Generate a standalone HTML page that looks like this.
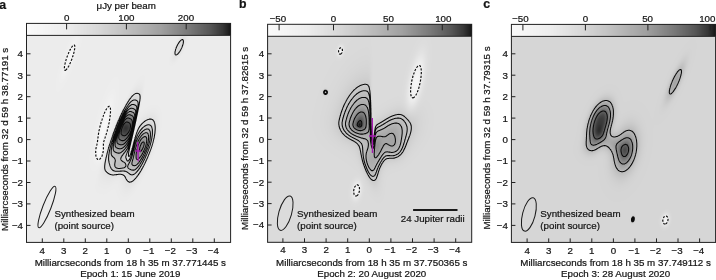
<!DOCTYPE html>
<html><head><meta charset="utf-8"><style>
html,body{margin:0;padding:0;background:#fff;}
#root{position:relative;width:716px;height:280px;overflow:hidden;background:#fff;font-family:"Liberation Sans", sans-serif;}
canvas,svg{position:absolute;left:0;top:0;}
svg text{font-family:"Liberation Sans", sans-serif;font-size:9.75px;fill:#141414;stroke:#141414;stroke-width:0.22px;}
</style></head><body><div id="root">
<canvas id="cv" width="716" height="280"></canvas>
<svg width="716" height="280" viewBox="0 0 716 280">
<path d="M176.2,54.9 175.8,54.9 175.5,54.8 175.2,54.5 175.1,54.1 175.0,53.6 175.0,53.4 175.0,52.9 175.0,52.5 175.0,52.1 175.1,51.6 175.2,51.1 175.3,50.9 175.4,50.4 175.5,49.9 175.6,49.6 175.7,49.1 175.8,48.9 176.0,48.4 176.1,48.1 176.2,47.7 176.4,47.4 176.5,47.1 176.7,46.6 176.8,46.4 177.0,46.0 177.2,45.6 177.3,45.4 177.5,45.0 177.7,44.6 177.8,44.4 178.0,44.1 178.2,43.7 178.4,43.4 178.6,43.1 178.8,42.9 179.0,42.5 179.2,42.2 179.4,41.9 179.6,41.6 179.8,41.4 180.1,41.1 180.3,40.9 180.5,40.6 180.8,40.4 181.1,40.1 181.5,39.9 181.8,39.7 182.0,39.6 182.5,39.6 182.8,39.6 183.0,39.9 183.2,40.3 183.4,40.6 183.4,41.1 183.4,41.6 183.4,42.1 183.3,42.6 183.2,43.1 183.2,43.4 183.1,43.9 183.0,44.2 182.9,44.6 182.8,45.1 182.6,45.4 182.5,45.8 182.4,46.1 182.2,46.5 182.1,46.9 182.0,47.2 181.8,47.6 181.7,47.9 181.5,48.3 181.3,48.6 181.2,48.9 181.0,49.3 180.8,49.6 180.7,49.9 180.5,50.2 180.3,50.6 180.1,50.9 180.0,51.1 179.8,51.5 179.5,51.8 179.3,52.1 179.1,52.4 178.9,52.6 178.7,52.9 178.5,53.2 178.2,53.5 178.0,53.7 177.8,54.0 177.5,54.2 177.2,54.4 176.8,54.6 176.5,54.8 176.2,54.9Z M130.0,182.2 129.8,182.1 129.2,182.1 128.8,181.9 128.5,181.7 128.2,181.6 128.0,181.4 127.7,181.2 127.5,180.9 127.2,180.7 127.0,180.3 126.8,180.0 126.6,179.7 126.4,179.4 126.2,179.1 126.0,178.7 125.9,178.4 125.8,178.1 125.5,177.7 125.4,177.4 125.2,177.2 125.0,176.8 124.8,176.4 124.6,176.2 124.4,175.9 124.1,175.7 123.9,175.4 123.5,175.2 123.2,175.0 123.0,174.8 122.5,174.7 122.2,174.6 121.8,174.4 121.5,174.4 121.0,174.3 120.5,174.3 120.0,174.3 119.5,174.3 119.0,174.3 118.5,174.3 118.0,174.4 117.8,174.4 117.2,174.5 116.8,174.6 116.2,174.6 116.0,174.7 115.5,174.7 115.0,174.8 114.5,174.8 114.0,174.9 113.5,174.9 113.0,174.9 112.5,174.9 112.0,174.8 111.5,174.7 111.1,174.7 110.8,174.6 110.3,174.4 110.0,174.3 109.7,174.2 109.2,173.9 109.0,173.8 108.7,173.7 108.4,173.4 108.0,173.2 107.8,173.0 107.5,172.8 107.2,172.6 107.0,172.4 106.7,172.2 106.4,171.9 106.2,171.7 106.0,171.4 105.8,171.1 105.5,170.7 105.3,170.4 105.2,170.2 105.0,169.7 105.0,169.4 104.8,168.9 104.8,168.4 104.7,168.2 104.7,167.7 104.7,167.2 104.7,166.7 104.7,166.2 104.7,165.7 104.8,165.4 104.8,164.9 104.9,164.4 104.9,163.9 105.0,163.4 105.0,163.2 105.1,162.7 105.2,162.2 105.3,161.9 105.3,161.4 105.4,160.9 105.5,160.6 105.6,160.2 105.7,159.7 105.8,159.3 105.8,158.9 105.9,158.4 106.0,158.2 106.1,157.7 106.2,157.2 106.3,156.9 106.4,156.4 106.5,155.9 106.6,155.7 106.7,155.2 106.8,154.9 106.9,154.4 107.0,153.9 107.0,153.7 107.2,153.2 107.2,152.8 107.4,152.4 107.5,151.9 107.5,151.7 107.7,151.2 107.8,150.9 107.9,150.4 108.0,149.9 108.1,149.7 108.2,149.2 108.3,148.9 108.4,148.4 108.5,148.2 108.6,147.7 108.8,147.3 108.9,146.9 109.0,146.5 109.1,146.2 109.2,145.7 109.3,145.4 109.5,144.9 109.5,144.7 109.7,144.2 109.8,143.9 109.9,143.4 110.0,143.2 110.2,142.7 110.3,142.4 110.4,141.9 110.5,141.7 110.7,141.2 110.8,140.9 110.9,140.4 111.0,140.1 111.2,139.7 111.3,139.4 111.4,138.9 111.5,138.7 111.7,138.2 111.8,137.9 111.9,137.4 112.0,137.2 112.2,136.7 112.3,136.4 112.4,135.9 112.5,135.7 112.7,135.2 112.8,134.9 113.0,134.4 113.1,134.2 113.2,133.7 113.3,133.4 113.5,133.0 113.6,132.7 113.8,132.3 113.9,131.9 114.0,131.6 114.2,131.2 114.3,130.9 114.4,130.4 114.5,130.2 114.7,129.7 114.8,129.4 115.0,128.9 115.1,128.7 115.2,128.3 115.4,127.9 115.5,127.6 115.7,127.2 115.8,126.9 116.0,126.4 116.1,126.2 116.2,125.7 116.4,125.4 116.5,125.0 116.7,124.7 116.8,124.4 117.0,123.9 117.1,123.7 117.2,123.2 117.4,122.9 117.5,122.6 117.7,122.2 117.8,121.9 118.0,121.4 118.1,121.2 118.2,120.9 118.4,120.4 118.6,120.2 118.8,119.7 118.9,119.4 119.0,119.2 119.2,118.7 119.3,118.4 119.5,118.0 119.7,117.7 119.8,117.4 120.0,116.9 120.1,116.7 120.3,116.4 120.5,115.9 120.6,115.7 120.8,115.3 121.0,114.9 121.1,114.7 121.2,114.3 121.4,113.9 121.6,113.7 121.8,113.3 121.9,112.9 122.0,112.7 122.2,112.2 122.4,111.9 122.5,111.7 122.8,111.2 122.9,110.9 123.1,110.7 123.2,110.3 123.4,109.9 123.6,109.7 123.8,109.3 124.0,108.9 124.1,108.7 124.2,108.4 124.5,107.9 124.6,107.7 124.8,107.4 125.0,107.0 125.2,106.7 125.3,106.4 125.5,106.1 125.7,105.7 125.9,105.4 126.0,105.2 126.2,104.7 126.4,104.4 126.6,104.2 126.8,103.9 127.0,103.5 127.2,103.2 127.3,102.9 127.5,102.6 127.8,102.2 128.0,101.9 128.1,101.7 128.3,101.4 128.5,101.1 128.8,100.7 128.9,100.4 129.1,100.2 129.3,99.9 129.5,99.6 129.8,99.2 130.0,98.9 130.2,98.7 130.4,98.4 130.5,98.2 130.8,97.9 131.0,97.6 131.2,97.2 131.5,96.9 131.8,96.7 132.0,96.4 132.2,96.2 132.4,95.9 132.7,95.7 132.9,95.4 133.2,95.2 133.5,94.9 133.8,94.7 134.0,94.5 134.2,94.3 134.5,94.1 134.9,93.9 135.2,93.7 135.5,93.6 136.0,93.4 136.2,93.4 136.8,93.3 137.2,93.3 137.8,93.4 138.0,93.4 138.5,93.6 138.8,93.8 139.0,93.9 139.3,94.2 139.5,94.4 139.8,94.8 139.9,95.2 140.0,95.6 140.0,95.9 140.1,96.4 140.1,96.9 140.1,97.4 140.1,97.9 140.1,98.4 140.0,98.9 140.0,99.2 139.9,99.7 139.9,100.2 139.8,100.7 139.8,101.0 139.7,101.4 139.6,101.9 139.5,102.4 139.5,102.7 139.4,103.2 139.3,103.7 139.2,104.0 139.2,104.4 139.1,104.9 139.0,105.3 138.9,105.7 138.8,106.2 138.8,106.6 138.7,106.9 138.6,107.4 138.5,107.9 138.4,108.2 138.4,108.7 138.2,109.1 138.2,109.4 138.1,109.9 138.0,110.4 137.9,110.7 137.8,111.2 137.8,111.6 137.7,111.9 137.6,112.4 137.5,112.8 137.4,113.2 137.3,113.7 137.2,114.0 137.2,114.4 137.1,114.9 137.0,115.2 136.9,115.7 136.8,116.2 136.7,116.4 136.7,116.9 136.5,117.4 136.5,117.7 136.4,118.2 136.3,118.7 136.2,118.9 136.1,119.4 136.0,119.9 136.0,120.2 135.9,120.7 135.8,121.1 135.7,121.4 135.6,121.9 135.5,122.3 135.4,122.7 135.3,123.2 135.2,123.5 135.2,123.9 135.0,124.4 135.0,124.7 134.9,125.2 134.8,125.7 134.7,125.9 134.6,126.4 134.5,126.9 134.4,127.2 134.3,127.7 134.2,128.0 134.2,128.4 134.0,128.9 134.0,129.2 133.9,129.7 133.8,130.2 133.7,130.4 133.6,130.9 133.5,131.3 133.4,131.7 133.3,132.2 133.2,132.4 133.1,132.9 133.0,133.4 133.0,133.7 132.8,134.2 132.8,134.5 132.7,134.9 132.5,135.4 132.5,135.7 132.4,136.2 132.2,136.6 132.2,136.9 132.1,137.4 132.0,137.7 131.9,138.2 131.8,138.7 131.7,138.9 131.6,139.4 131.5,139.8 131.4,140.2 131.3,140.7 131.2,140.9 131.1,141.4 131.0,141.9 130.9,142.2 130.8,142.7 130.8,143.0 130.7,143.4 130.5,143.9 130.5,144.2 130.4,144.7 130.2,145.1 130.2,145.4 130.1,145.9 130.0,146.2 129.9,146.7 129.8,147.2 129.7,147.4 129.6,147.9 129.5,148.4 129.5,148.7 129.4,149.2 129.2,149.6 129.2,149.9 129.1,150.4 129.0,150.8 128.9,151.2 128.8,151.7 128.8,152.2 128.7,152.4 128.6,152.9 128.6,153.4 128.5,153.9 128.5,154.2 128.5,154.7 128.4,155.2 128.5,155.7 128.5,155.9 128.8,156.4 129.0,156.4 129.2,156.3 129.5,156.0 129.7,155.7 129.8,155.4 130.0,155.1 130.2,154.7 130.3,154.4 130.5,153.9 130.6,153.7 130.8,153.2 130.8,152.9 131.0,152.5 131.1,152.2 131.2,151.7 131.3,151.4 131.5,150.9 131.6,150.7 131.7,150.2 131.8,149.9 131.9,149.4 132.0,149.2 132.1,148.7 132.2,148.3 132.4,147.9 132.5,147.4 132.6,147.2 132.7,146.7 132.8,146.4 132.9,145.9 133.0,145.5 133.1,145.2 133.2,144.7 133.3,144.4 133.4,143.9 133.5,143.7 133.6,143.2 133.8,142.7 133.8,142.4 134.0,141.9 134.0,141.7 134.2,141.2 134.2,140.9 134.4,140.4 134.5,139.9 134.6,139.7 134.7,139.2 134.8,138.9 134.9,138.4 135.0,138.2 135.1,137.7 135.2,137.3 135.4,136.9 135.5,136.5 135.6,136.2 135.8,135.7 135.8,135.4 136.0,134.9 136.1,134.7 136.2,134.2 136.3,133.9 136.5,133.4 136.6,133.2 136.8,132.7 136.8,132.4 137.0,132.0 137.1,131.7 137.2,131.3 137.4,130.9 137.5,130.7 137.7,130.2 137.9,129.9 138.0,129.6 138.2,129.2 138.3,128.9 138.5,128.6 138.7,128.2 138.9,127.9 139.0,127.7 139.2,127.3 139.5,126.9 139.6,126.7 139.8,126.4 140.0,126.1 140.2,125.8 140.5,125.5 140.8,125.2 141.0,124.9 141.2,124.7 141.4,124.4 141.6,124.2 141.9,123.9 142.1,123.7 142.3,123.4 142.6,123.2 142.9,122.9 143.1,122.7 143.4,122.4 143.7,122.2 144.0,121.9 144.2,121.7 144.5,121.5 144.8,121.3 145.0,121.1 145.3,120.9 145.7,120.7 146.0,120.4 146.2,120.3 146.5,120.1 147.0,119.9 147.2,119.8 147.5,119.7 148.0,119.5 148.2,119.4 148.8,119.3 149.2,119.2 149.5,119.1 150.0,119.1 150.5,119.1 151.0,119.1 151.2,119.2 151.8,119.3 152.0,119.4 152.5,119.7 152.8,119.8 153.0,120.0 153.2,120.3 153.5,120.6 153.7,120.9 153.8,121.2 154.0,121.4 154.2,121.9 154.3,122.2 154.5,122.7 154.6,122.9 154.7,123.4 154.8,123.7 154.9,124.2 154.9,124.7 155.0,125.0 155.0,125.4 155.1,125.9 155.1,126.4 155.2,126.9 155.2,127.4 155.2,127.9 155.2,128.4 155.2,128.9 155.2,129.4 155.1,129.9 155.1,130.4 155.1,130.9 155.0,131.4 155.0,131.9 155.0,132.2 154.9,132.7 154.9,133.2 154.8,133.7 154.8,134.0 154.7,134.4 154.6,134.9 154.5,135.4 154.5,135.7 154.4,136.2 154.3,136.7 154.2,137.0 154.2,137.4 154.1,137.9 154.0,138.2 153.9,138.7 153.8,139.2 153.7,139.4 153.6,139.9 153.5,140.4 153.4,140.7 153.3,141.2 153.2,141.4 153.1,141.9 153.0,142.4 152.9,142.7 152.8,143.2 152.7,143.4 152.6,143.9 152.5,144.2 152.3,144.7 152.2,144.9 152.1,145.4 152.0,145.7 151.9,146.2 151.8,146.5 151.6,146.9 151.5,147.3 151.4,147.7 151.2,148.0 151.1,148.4 151.0,148.7 150.8,149.2 150.7,149.4 150.6,149.9 150.5,150.2 150.3,150.7 150.2,150.9 150.0,151.4 149.9,151.7 149.8,152.1 149.6,152.4 149.5,152.7 149.3,153.2 149.2,153.4 149.0,153.9 148.9,154.2 148.8,154.6 148.6,154.9 148.5,155.2 148.3,155.7 148.2,155.9 148.0,156.4 147.9,156.7 147.8,157.0 147.6,157.4 147.5,157.7 147.3,158.2 147.1,158.4 147.0,158.7 146.8,159.2 146.7,159.4 146.5,159.9 146.4,160.2 146.2,160.4 146.0,160.9 145.9,161.2 145.8,161.5 145.6,161.9 145.4,162.2 145.2,162.6 145.1,162.9 145.0,163.2 144.8,163.6 144.6,163.9 144.5,164.2 144.2,164.6 144.1,164.9 144.0,165.2 143.8,165.6 143.6,165.9 143.5,166.2 143.2,166.6 143.1,166.9 142.9,167.2 142.8,167.5 142.5,167.9 142.4,168.2 142.2,168.4 142.0,168.9 141.8,169.2 141.7,169.4 141.5,169.8 141.3,170.2 141.1,170.4 141.0,170.7 140.8,171.0 140.5,171.4 140.4,171.7 140.2,171.9 140.0,172.3 139.8,172.6 139.6,172.9 139.4,173.2 139.2,173.4 139.0,173.8 138.8,174.2 138.6,174.4 138.4,174.7 138.2,174.9 138.0,175.2 137.8,175.6 137.5,175.9 137.3,176.2 137.1,176.4 137.0,176.7 136.8,176.9 136.5,177.2 136.2,177.5 136.0,177.8 135.8,178.1 135.5,178.4 135.3,178.7 135.0,178.9 134.8,179.2 134.6,179.4 134.3,179.7 134.1,179.9 133.8,180.2 133.5,180.4 133.2,180.6 133.0,180.8 132.8,181.0 132.5,181.2 132.1,181.4 131.8,181.6 131.5,181.7 131.1,181.9 130.8,182.0 130.2,182.1 130.0,182.2Z M133.0,174.7 132.5,174.8 132.0,174.9 131.5,174.8 131.1,174.7 130.8,174.5 130.5,174.4 130.0,174.2 129.8,174.0 129.5,173.8 129.2,173.6 128.9,173.4 128.6,173.2 128.3,172.9 128.0,172.7 127.8,172.5 127.5,172.3 127.2,172.1 126.9,171.9 126.5,171.7 126.2,171.5 126.0,171.4 125.5,171.2 125.1,171.2 124.8,171.1 124.2,171.1 123.8,171.0 123.2,171.0 122.8,171.0 122.2,171.0 121.8,171.0 121.2,171.1 120.8,171.1 120.2,171.1 120.0,171.2 119.5,171.2 119.0,171.2 118.5,171.3 118.0,171.3 117.5,171.3 117.0,171.3 116.5,171.3 116.0,171.3 115.5,171.2 115.2,171.2 114.8,171.1 114.2,170.9 114.0,170.8 113.6,170.7 113.2,170.5 113.0,170.3 112.7,170.2 112.4,169.9 112.1,169.7 111.9,169.4 111.7,169.2 111.5,168.9 111.2,168.5 111.0,168.2 110.9,167.9 110.8,167.6 110.5,167.2 110.4,166.9 110.3,166.4 110.2,166.2 110.0,165.7 109.9,165.4 109.8,164.9 109.7,164.7 109.6,164.2 109.5,163.9 109.3,163.4 109.2,163.1 109.1,162.7 109.0,162.2 109.0,161.9 108.9,161.4 108.8,160.9 108.7,160.7 108.7,160.2 108.6,159.7 108.6,159.2 108.6,158.7 108.6,158.2 108.6,157.7 108.6,157.2 108.7,156.7 108.7,156.2 108.7,155.7 108.8,155.4 108.8,154.9 108.9,154.4 109.0,153.9 109.0,153.6 109.1,153.2 109.2,152.7 109.2,152.2 109.3,151.9 109.4,151.4 109.5,150.9 109.5,150.7 109.6,150.2 109.8,149.7 109.8,149.4 109.9,148.9 110.0,148.6 110.1,148.2 110.2,147.7 110.3,147.4 110.4,146.9 110.5,146.6 110.6,146.2 110.7,145.7 110.8,145.4 111.0,144.9 111.0,144.7 111.2,144.2 111.2,143.8 111.4,143.4 111.5,143.0 111.6,142.7 111.7,142.2 111.8,141.9 112.0,141.4 112.0,141.2 112.2,140.7 112.3,140.4 112.4,139.9 112.5,139.7 112.7,139.2 112.8,138.9 112.9,138.4 113.0,138.1 113.2,137.7 113.2,137.4 113.4,136.9 113.5,136.6 113.6,136.2 113.8,135.9 113.9,135.4 114.0,135.1 114.2,134.7 114.2,134.4 114.4,133.9 114.5,133.7 114.7,133.2 114.8,132.9 114.9,132.4 115.0,132.2 115.2,131.7 115.3,131.4 115.5,130.9 115.6,130.7 115.8,130.2 115.9,129.9 116.0,129.5 116.1,129.2 116.2,128.8 116.4,128.4 116.5,128.2 116.7,127.7 116.8,127.4 117.0,126.9 117.1,126.7 117.2,126.2 117.4,125.9 117.5,125.6 117.7,125.2 117.8,124.9 118.0,124.4 118.1,124.2 118.2,123.8 118.4,123.4 118.5,123.2 118.7,122.7 118.8,122.4 119.0,122.0 119.2,121.7 119.3,121.4 119.5,120.9 119.6,120.7 119.8,120.3 119.9,119.9 120.1,119.7 120.2,119.2 120.4,118.9 120.5,118.7 120.8,118.2 120.9,117.9 121.0,117.6 121.2,117.2 121.4,116.9 121.5,116.6 121.7,116.2 121.8,115.9 122.0,115.6 122.2,115.2 122.3,114.9 122.5,114.6 122.7,114.2 122.9,113.9 123.0,113.6 123.2,113.2 123.4,112.9 123.5,112.7 123.8,112.2 123.9,111.9 124.1,111.7 124.2,111.3 124.5,110.9 124.6,110.7 124.8,110.4 125.0,110.0 125.2,109.7 125.3,109.4 125.5,109.1 125.8,108.7 125.9,108.4 126.1,108.2 126.2,107.9 126.5,107.5 126.7,107.2 126.9,106.9 127.0,106.7 127.2,106.3 127.5,106.0 127.7,105.7 127.9,105.4 128.1,105.2 128.2,104.9 128.5,104.5 128.8,104.2 129.0,103.9 129.2,103.7 129.4,103.4 129.6,103.2 129.8,102.9 130.0,102.7 130.3,102.4 130.5,102.2 130.8,101.9 131.0,101.7 131.3,101.4 131.6,101.2 131.9,100.9 132.2,100.7 132.5,100.5 132.8,100.4 133.2,100.2 133.5,100.1 134.0,99.9 134.5,99.9 135.0,99.9 135.5,100.0 135.8,100.2 136.2,100.3 136.5,100.4 136.9,100.7 137.2,100.9 137.5,101.2 137.7,101.4 137.8,101.7 138.0,102.2 138.0,102.4 138.1,102.9 138.1,103.4 138.1,103.9 138.1,104.4 138.1,104.9 138.0,105.4 138.0,105.9 138.0,106.2 137.9,106.7 137.9,107.2 137.8,107.7 137.8,107.9 137.7,108.4 137.6,108.9 137.5,109.4 137.5,109.7 137.4,110.2 137.3,110.7 137.2,111.1 137.2,111.4 137.1,111.9 137.0,112.4 137.0,112.7 136.9,113.2 136.8,113.7 136.8,113.9 136.7,114.4 136.6,114.9 136.5,115.2 136.4,115.7 136.3,116.2 136.2,116.5 136.2,116.9 136.1,117.4 136.0,117.8 135.9,118.2 135.8,118.7 135.8,119.1 135.7,119.4 135.6,119.9 135.5,120.3 135.4,120.7 135.3,121.2 135.2,121.5 135.2,121.9 135.1,122.4 135.0,122.7 134.9,123.2 134.8,123.7 134.7,123.9 134.6,124.4 134.5,124.9 134.5,125.2 134.4,125.7 134.2,126.1 134.2,126.4 134.1,126.9 134.0,127.3 133.9,127.7 133.8,128.2 133.7,128.4 133.6,128.9 133.5,129.4 133.5,129.7 133.3,130.2 133.2,130.5 133.2,130.9 133.0,131.4 133.0,131.7 132.9,132.2 132.8,132.6 132.7,132.9 132.6,133.4 132.5,133.7 132.4,134.2 132.3,134.7 132.2,134.9 132.1,135.4 132.0,135.7 131.9,136.2 131.8,136.7 131.7,136.9 131.6,137.4 131.5,137.7 131.4,138.2 131.2,138.6 131.2,138.9 131.0,139.4 131.0,139.7 130.9,140.2 130.8,140.5 130.7,140.9 130.5,141.4 130.5,141.7 130.3,142.2 130.2,142.4 130.1,142.9 130.0,143.3 129.9,143.7 129.8,144.2 129.7,144.4 129.6,144.9 129.5,145.2 129.4,145.7 129.2,146.0 129.1,146.4 129.0,146.9 128.9,147.2 128.8,147.7 128.7,147.9 128.5,148.4 128.5,148.7 128.3,149.2 128.2,149.4 128.1,149.9 128.0,150.2 127.8,150.7 127.7,150.9 127.5,151.4 127.4,151.7 127.3,152.2 127.2,152.4 127.0,152.8 126.9,153.2 126.8,153.5 126.6,153.9 126.5,154.2 126.3,154.7 126.2,154.9 126.1,155.4 126.0,155.7 125.9,156.2 125.8,156.7 125.8,157.2 125.9,157.7 126.0,158.0 126.1,158.4 126.2,158.8 126.4,159.2 126.5,159.4 126.7,159.9 126.8,160.2 127.0,160.4 127.2,160.8 127.5,161.0 128.0,161.1 128.3,160.9 128.6,160.7 128.8,160.4 129.0,160.2 129.2,159.8 129.5,159.4 129.6,159.2 129.8,158.9 130.0,158.4 130.1,158.2 130.2,157.9 130.4,157.4 130.5,157.2 130.7,156.7 130.8,156.4 131.0,155.9 131.1,155.7 131.2,155.2 131.3,154.9 131.5,154.4 131.5,154.2 131.7,153.7 131.8,153.4 131.9,152.9 132.0,152.6 132.1,152.2 132.2,151.7 132.3,151.4 132.5,150.9 132.5,150.7 132.7,150.2 132.8,149.8 132.9,149.4 133.0,148.9 133.1,148.7 133.2,148.2 133.3,147.9 133.4,147.4 133.5,147.0 133.6,146.7 133.7,146.2 133.8,145.9 133.9,145.4 134.0,145.2 134.2,144.7 134.2,144.3 134.4,143.9 134.5,143.4 134.6,143.2 134.7,142.7 134.8,142.4 134.9,141.9 135.0,141.7 135.2,141.2 135.2,140.9 135.4,140.4 135.5,140.1 135.7,139.7 135.8,139.4 135.9,138.9 136.0,138.6 136.2,138.2 136.3,137.9 136.5,137.4 136.6,137.2 136.8,136.7 136.9,136.4 137.0,136.1 137.2,135.7 137.3,135.4 137.5,135.0 137.7,134.7 137.8,134.4 138.0,134.0 138.2,133.7 138.3,133.4 138.5,133.1 138.8,132.7 139.0,132.4 139.1,132.2 139.3,131.9 139.5,131.6 139.8,131.2 140.0,130.9 140.2,130.7 140.4,130.4 140.6,130.2 140.8,129.9 141.0,129.6 141.2,129.3 141.5,129.0 141.8,128.8 142.0,128.5 142.2,128.2 142.5,128.0 142.8,127.7 143.0,127.5 143.2,127.3 143.5,127.1 143.8,126.9 144.0,126.7 144.4,126.4 144.7,126.2 145.0,126.0 145.2,125.8 145.5,125.7 146.0,125.4 146.2,125.3 146.6,125.2 147.0,125.0 147.4,124.9 147.8,124.8 148.2,124.8 148.8,124.8 149.2,124.8 149.6,124.9 150.0,125.0 150.2,125.2 150.6,125.4 150.8,125.7 151.1,125.9 151.2,126.2 151.5,126.6 151.6,126.9 151.8,127.2 151.9,127.7 152.0,127.9 152.1,128.4 152.2,128.9 152.3,129.2 152.3,129.7 152.4,130.2 152.4,130.7 152.4,131.2 152.4,131.7 152.4,132.2 152.4,132.7 152.4,133.2 152.4,133.7 152.4,134.2 152.3,134.7 152.3,135.2 152.2,135.4 152.2,135.9 152.1,136.4 152.0,136.9 152.0,137.2 151.9,137.7 151.8,138.2 151.8,138.7 151.7,138.9 151.6,139.4 151.5,139.9 151.4,140.2 151.3,140.7 151.2,141.0 151.2,141.4 151.0,141.9 151.0,142.2 150.8,142.7 150.8,143.0 150.6,143.4 150.5,143.9 150.4,144.2 150.3,144.7 150.2,144.9 150.1,145.4 150.0,145.7 149.8,146.2 149.7,146.4 149.6,146.9 149.5,147.2 149.3,147.7 149.2,147.9 149.0,148.4 149.0,148.7 148.8,149.2 148.7,149.4 148.5,149.9 148.4,150.2 148.2,150.5 148.1,150.9 148.0,151.2 147.8,151.7 147.7,151.9 147.5,152.4 147.4,152.7 147.2,153.1 147.1,153.4 147.0,153.7 146.8,154.2 146.7,154.4 146.5,154.9 146.4,155.2 146.2,155.4 146.0,155.9 145.9,156.2 145.8,156.6 145.6,156.9 145.5,157.2 145.3,157.7 145.1,157.9 145.0,158.2 144.8,158.7 144.7,158.9 144.5,159.3 144.3,159.7 144.2,159.9 144.0,160.3 143.8,160.7 143.7,160.9 143.5,161.3 143.3,161.7 143.2,161.9 143.0,162.3 142.8,162.7 142.7,162.9 142.5,163.3 142.3,163.7 142.2,163.9 142.0,164.2 141.8,164.6 141.6,164.9 141.5,165.2 141.2,165.5 141.0,165.9 140.9,166.2 140.7,166.4 140.5,166.8 140.3,167.2 140.1,167.4 139.9,167.7 139.8,168.0 139.5,168.3 139.3,168.7 139.1,168.9 138.9,169.2 138.8,169.4 138.5,169.8 138.2,170.1 138.0,170.4 137.8,170.7 137.6,170.9 137.4,171.2 137.2,171.4 137.0,171.7 136.8,171.9 136.5,172.2 136.2,172.5 136.0,172.7 135.8,172.9 135.5,173.2 135.2,173.4 134.9,173.7 134.6,173.9 134.2,174.1 134.0,174.3 133.8,174.4 133.2,174.6 133.0,174.7Z M120.0,168.4 119.5,168.4 119.0,168.4 118.5,168.4 118.1,168.4 117.8,168.3 117.2,168.2 117.0,168.2 116.5,167.9 116.2,167.8 116.0,167.6 115.7,167.4 115.5,167.2 115.2,166.8 115.0,166.4 114.9,166.2 114.8,165.7 114.8,165.2 114.7,164.9 114.7,164.4 114.8,164.2 114.8,163.7 114.9,163.2 115.0,162.7 115.0,162.4 115.1,161.9 115.2,161.4 115.3,161.2 115.3,160.7 115.3,160.2 115.2,159.9 115.1,159.4 115.0,159.1 114.8,158.7 114.6,158.4 114.4,158.2 114.2,157.9 113.9,157.7 113.6,157.4 113.3,157.2 113.0,156.9 112.8,156.7 112.5,156.5 112.2,156.2 112.0,155.9 111.9,155.7 111.7,155.4 111.5,154.9 111.4,154.7 111.3,154.2 111.2,153.8 111.2,153.4 111.2,152.9 111.2,152.4 111.2,151.9 111.2,151.4 111.2,150.9 111.2,150.4 111.3,150.2 111.3,149.7 111.4,149.2 111.5,148.7 111.5,148.4 111.6,147.9 111.7,147.4 111.8,147.0 111.8,146.7 111.9,146.2 112.0,145.7 112.1,145.4 112.2,144.9 112.2,144.6 112.4,144.2 112.5,143.7 112.5,143.4 112.7,142.9 112.8,142.6 112.9,142.2 113.0,141.7 113.1,141.4 113.2,140.9 113.3,140.7 113.4,140.2 113.5,139.9 113.6,139.4 113.8,139.0 113.9,138.7 114.0,138.2 114.1,137.9 114.2,137.4 114.3,137.2 114.5,136.7 114.6,136.4 114.7,135.9 114.8,135.7 115.0,135.2 115.0,134.9 115.2,134.4 115.3,134.2 115.5,133.7 115.5,133.4 115.7,132.9 115.8,132.7 116.0,132.2 116.1,131.9 116.2,131.4 116.3,131.2 116.5,130.7 116.6,130.4 116.8,130.0 116.9,129.7 117.0,129.3 117.1,128.9 117.2,128.6 117.4,128.2 117.5,127.9 117.7,127.4 117.8,127.2 118.0,126.7 118.1,126.4 118.2,126.0 118.4,125.7 118.5,125.4 118.7,124.9 118.8,124.7 119.0,124.2 119.1,123.9 119.2,123.6 119.4,123.2 119.5,122.9 119.8,122.4 119.9,122.2 120.0,121.9 120.2,121.4 120.3,121.2 120.5,120.8 120.7,120.4 120.8,120.2 121.0,119.7 121.2,119.4 121.3,119.2 121.5,118.7 121.6,118.4 121.8,118.2 122.0,117.7 122.1,117.4 122.3,117.2 122.5,116.7 122.7,116.4 122.8,116.2 123.0,115.7 123.2,115.4 123.3,115.2 123.5,114.8 123.7,114.4 123.9,114.2 124.0,113.9 124.2,113.5 124.4,113.2 124.6,112.9 124.8,112.6 125.0,112.2 125.2,111.9 125.3,111.7 125.5,111.4 125.8,111.0 126.0,110.7 126.1,110.4 126.3,110.2 126.5,109.9 126.8,109.5 127.0,109.2 127.2,108.9 127.4,108.7 127.5,108.4 127.8,108.1 128.0,107.8 128.2,107.5 128.5,107.2 128.8,106.9 129.0,106.7 129.2,106.4 129.5,106.2 129.8,105.9 130.0,105.7 130.2,105.5 130.5,105.3 130.8,105.2 131.2,104.9 131.5,104.7 131.8,104.6 132.2,104.5 132.8,104.5 133.2,104.5 133.8,104.6 134.0,104.7 134.5,104.8 134.8,104.9 135.2,105.2 135.5,105.3 135.8,105.5 136.0,105.7 136.2,105.9 136.5,106.4 136.6,106.7 136.7,107.2 136.8,107.5 136.8,107.9 136.8,108.4 136.8,108.9 136.8,109.4 136.8,109.8 136.7,110.2 136.7,110.7 136.6,111.2 136.6,111.7 136.5,112.2 136.5,112.4 136.4,112.9 136.3,113.4 136.3,113.9 136.2,114.2 136.1,114.7 136.1,115.2 136.0,115.5 135.9,115.9 135.8,116.4 135.8,116.9 135.7,117.2 135.6,117.7 135.5,118.2 135.5,118.4 135.4,118.9 135.3,119.4 135.2,119.7 135.2,120.2 135.1,120.7 135.0,120.9 134.9,121.4 134.8,121.9 134.8,122.2 134.7,122.7 134.5,123.2 134.5,123.4 134.4,123.9 134.3,124.4 134.2,124.7 134.1,125.2 134.0,125.7 134.0,125.9 133.8,126.4 133.8,126.8 133.7,127.2 133.6,127.7 133.5,127.9 133.4,128.4 133.3,128.9 133.2,129.2 133.1,129.7 133.0,130.1 132.9,130.4 132.8,130.9 132.7,131.2 132.6,131.7 132.5,132.1 132.4,132.4 132.3,132.9 132.2,133.2 132.1,133.7 132.0,134.1 131.9,134.4 131.8,134.9 131.7,135.2 131.6,135.7 131.5,136.0 131.4,136.4 131.3,136.9 131.2,137.2 131.0,137.7 131.0,137.9 130.8,138.4 130.8,138.7 130.6,139.2 130.5,139.6 130.4,139.9 130.3,140.4 130.2,140.7 130.0,141.2 130.0,141.4 129.8,141.9 129.7,142.2 129.6,142.7 129.5,142.9 129.3,143.4 129.2,143.7 129.1,144.2 129.0,144.4 128.8,144.9 128.7,145.2 128.5,145.7 128.4,145.9 128.2,146.3 128.1,146.7 128.0,146.9 127.8,147.4 127.7,147.7 127.5,148.0 127.3,148.4 127.2,148.7 127.0,149.0 126.8,149.4 126.6,149.7 126.5,149.9 126.2,150.2 126.0,150.6 125.8,150.9 125.6,151.2 125.4,151.4 125.2,151.7 125.0,152.0 124.8,152.3 124.5,152.6 124.3,152.9 124.1,153.2 123.9,153.4 123.7,153.7 123.5,153.9 123.2,154.2 123.0,154.6 122.8,154.9 122.6,155.2 122.4,155.4 122.2,155.7 122.0,155.9 121.8,156.3 121.5,156.7 121.4,156.9 121.2,157.2 121.0,157.7 121.0,157.9 120.8,158.4 120.8,158.9 120.9,159.4 121.0,159.7 121.2,160.1 121.5,160.4 121.7,160.7 122.0,160.9 122.2,161.2 122.5,161.3 122.8,161.5 123.0,161.7 123.4,161.9 123.8,162.1 124.0,162.2 124.3,162.4 124.6,162.7 124.9,162.9 125.1,163.2 125.3,163.4 125.5,163.8 125.6,164.2 125.8,164.5 125.9,164.9 125.9,165.4 125.9,165.9 125.8,166.3 125.6,166.7 125.3,166.9 125.0,167.2 124.8,167.4 124.5,167.5 124.1,167.7 123.8,167.8 123.3,167.9 123.0,168.0 122.5,168.1 122.0,168.2 121.8,168.2 121.2,168.3 120.8,168.3 120.2,168.4 120.0,168.4Z M134.2,169.9 133.8,170.1 133.2,170.1 132.8,170.1 132.2,170.0 131.8,169.9 131.5,169.9 131.0,169.7 130.8,169.6 130.3,169.4 130.0,169.3 129.8,169.1 129.3,168.9 129.0,168.7 128.8,168.5 128.5,168.2 128.2,168.0 128.0,167.7 127.9,167.4 127.8,167.0 127.7,166.7 127.7,166.2 127.8,165.8 127.9,165.4 128.0,165.2 128.2,164.7 128.4,164.4 128.5,164.2 128.8,163.8 128.9,163.4 129.1,163.2 129.2,162.8 129.5,162.4 129.6,162.2 129.8,161.9 130.0,161.4 130.1,161.2 130.2,160.9 130.5,160.4 130.6,160.2 130.8,159.8 130.9,159.4 131.0,159.2 131.2,158.7 131.3,158.4 131.5,157.9 131.6,157.7 131.7,157.2 131.8,156.9 132.0,156.4 132.1,156.2 132.2,155.7 132.3,155.4 132.4,154.9 132.5,154.6 132.6,154.2 132.7,153.7 132.8,153.4 132.9,152.9 133.0,152.7 133.1,152.2 133.2,151.7 133.3,151.4 133.5,150.9 133.5,150.7 133.7,150.2 133.8,149.8 133.9,149.4 134.0,148.9 134.1,148.7 134.2,148.2 134.3,147.9 134.4,147.4 134.5,147.0 134.6,146.7 134.8,146.2 134.8,145.9 135.0,145.4 135.1,145.2 135.2,144.7 135.3,144.4 135.4,143.9 135.5,143.7 135.7,143.2 135.8,142.9 136.0,142.4 136.0,142.2 136.2,141.7 136.3,141.4 136.5,140.9 136.6,140.7 136.8,140.3 136.9,139.9 137.0,139.7 137.2,139.2 137.4,138.9 137.5,138.7 137.8,138.2 137.9,137.9 138.0,137.7 138.2,137.2 138.4,136.9 138.6,136.7 138.8,136.4 139.0,136.0 139.2,135.7 139.4,135.4 139.5,135.2 139.8,134.8 140.0,134.4 140.2,134.2 140.4,133.9 140.6,133.7 140.8,133.4 141.0,133.1 141.2,132.8 141.5,132.5 141.8,132.3 142.0,132.0 142.2,131.7 142.5,131.5 142.8,131.2 143.0,131.0 143.2,130.8 143.5,130.6 143.8,130.4 144.1,130.2 144.5,129.9 144.8,129.7 145.0,129.6 145.4,129.4 145.8,129.2 146.0,129.2 146.5,129.0 147.0,128.9 147.5,128.9 148.0,129.0 148.4,129.2 148.8,129.3 149.0,129.5 149.2,129.8 149.5,130.1 149.7,130.4 149.8,130.7 150.0,131.2 150.0,131.4 150.2,131.9 150.2,132.3 150.3,132.7 150.4,133.2 150.4,133.7 150.4,134.2 150.4,134.7 150.4,135.2 150.4,135.7 150.4,136.2 150.3,136.7 150.3,137.2 150.2,137.6 150.2,137.9 150.1,138.4 150.1,138.9 150.0,139.4 150.0,139.7 149.9,140.2 149.8,140.7 149.7,140.9 149.6,141.4 149.5,141.9 149.4,142.2 149.3,142.7 149.2,142.9 149.1,143.4 149.0,143.8 148.9,144.2 148.8,144.7 148.7,144.9 148.5,145.4 148.5,145.7 148.3,146.2 148.2,146.4 148.1,146.9 148.0,147.2 147.8,147.7 147.7,147.9 147.5,148.4 147.4,148.7 147.2,149.1 147.2,149.4 147.0,149.8 146.9,150.2 146.8,150.4 146.6,150.9 146.5,151.2 146.3,151.7 146.2,151.9 146.0,152.3 145.8,152.7 145.7,152.9 145.5,153.4 145.4,153.7 145.2,154.0 145.1,154.4 145.0,154.7 144.8,155.2 144.6,155.4 144.5,155.7 144.3,156.2 144.2,156.4 144.0,156.8 143.8,157.2 143.7,157.4 143.5,157.8 143.3,158.2 143.2,158.4 143.0,158.8 142.8,159.2 142.7,159.4 142.5,159.7 142.3,160.2 142.2,160.4 142.0,160.7 141.8,161.1 141.6,161.4 141.5,161.7 141.2,162.0 141.0,162.4 140.9,162.7 140.7,162.9 140.5,163.3 140.3,163.7 140.1,163.9 140.0,164.2 139.8,164.5 139.5,164.8 139.3,165.2 139.1,165.4 138.9,165.7 138.8,165.9 138.5,166.2 138.2,166.6 138.0,166.9 137.8,167.2 137.6,167.4 137.3,167.7 137.1,167.9 136.8,168.2 136.6,168.4 136.3,168.7 136.0,168.9 135.8,169.1 135.5,169.3 135.2,169.5 134.9,169.7 134.5,169.9 134.2,169.9Z M119.8,152.9 119.2,153.1 118.8,153.1 118.2,153.1 117.8,153.0 117.2,152.9 117.0,152.8 116.5,152.7 116.2,152.5 115.9,152.4 115.5,152.2 115.2,152.1 114.9,151.9 114.5,151.7 114.2,151.4 114.0,151.2 113.8,150.9 113.7,150.7 113.5,150.2 113.4,149.9 113.3,149.4 113.2,148.9 113.2,148.7 113.2,148.2 113.2,147.7 113.2,147.2 113.2,146.7 113.3,146.4 113.3,145.9 113.4,145.4 113.5,144.9 113.5,144.6 113.6,144.2 113.7,143.7 113.8,143.2 113.8,142.9 113.9,142.4 114.0,142.0 114.1,141.7 114.2,141.2 114.2,140.9 114.4,140.4 114.5,139.9 114.6,139.7 114.7,139.2 114.8,138.9 114.9,138.4 115.0,138.0 115.1,137.7 115.2,137.2 115.3,136.9 115.5,136.4 115.5,136.2 115.7,135.7 115.8,135.4 115.9,134.9 116.0,134.6 116.1,134.2 116.2,133.8 116.4,133.4 116.5,133.1 116.6,132.7 116.8,132.3 116.9,131.9 117.0,131.6 117.1,131.2 117.2,130.9 117.4,130.4 117.5,130.1 117.7,129.7 117.8,129.4 117.9,128.9 118.0,128.7 118.2,128.2 118.3,127.9 118.5,127.4 118.6,127.2 118.8,126.8 118.9,126.4 119.0,126.1 119.2,125.7 119.3,125.4 119.5,124.9 119.6,124.7 119.8,124.3 119.9,123.9 120.0,123.7 120.2,123.2 120.4,122.9 120.5,122.6 120.7,122.2 120.8,121.9 121.0,121.5 121.2,121.2 121.3,120.9 121.5,120.5 121.7,120.2 121.8,119.9 122.0,119.5 122.2,119.2 122.3,118.9 122.5,118.5 122.7,118.2 122.8,117.9 123.0,117.6 123.2,117.2 123.4,116.9 123.5,116.7 123.8,116.2 123.9,115.9 124.1,115.7 124.2,115.4 124.5,114.9 124.7,114.7 124.8,114.4 125.0,114.1 125.2,113.8 125.5,113.4 125.7,113.2 125.8,112.9 126.0,112.6 126.2,112.3 126.5,111.9 126.7,111.7 126.9,111.4 127.1,111.2 127.3,110.9 127.5,110.7 127.8,110.4 128.0,110.2 128.2,109.9 128.5,109.7 128.8,109.4 129.1,109.2 129.4,108.9 129.8,108.7 130.0,108.6 130.4,108.4 130.8,108.3 131.2,108.2 131.8,108.2 132.2,108.3 132.7,108.4 133.0,108.5 133.3,108.7 133.8,108.8 134.0,108.9 134.4,109.2 134.8,109.4 135.0,109.6 135.2,109.9 135.4,110.2 135.5,110.5 135.6,110.9 135.7,111.4 135.7,111.9 135.7,112.4 135.7,112.9 135.7,113.4 135.6,113.9 135.6,114.4 135.6,114.9 135.5,115.4 135.5,115.7 135.4,116.2 135.3,116.7 135.3,117.2 135.2,117.4 135.1,117.9 135.1,118.4 135.0,118.8 134.9,119.2 134.8,119.7 134.8,120.2 134.7,120.4 134.6,120.9 134.5,121.4 134.5,121.7 134.4,122.2 134.3,122.7 134.2,122.9 134.1,123.4 134.0,123.9 134.0,124.2 133.9,124.7 133.8,125.2 133.7,125.4 133.6,125.9 133.5,126.4 133.4,126.7 133.3,127.2 133.2,127.5 133.2,127.9 133.1,128.4 133.0,128.7 132.9,129.2 132.8,129.7 132.7,129.9 132.6,130.4 132.5,130.7 132.4,131.2 132.3,131.7 132.2,131.9 132.1,132.4 132.0,132.7 131.9,133.2 131.8,133.5 131.6,133.9 131.5,134.4 131.4,134.7 131.3,135.2 131.2,135.4 131.1,135.9 131.0,136.2 130.9,136.7 130.8,137.0 130.6,137.4 130.5,137.8 130.4,138.2 130.2,138.6 130.2,138.9 130.0,139.4 129.9,139.7 129.8,140.1 129.6,140.4 129.5,140.8 129.4,141.2 129.2,141.5 129.1,141.9 129.0,142.2 128.8,142.7 128.7,142.9 128.5,143.3 128.3,143.7 128.2,143.9 128.0,144.3 127.8,144.7 127.7,144.9 127.5,145.2 127.3,145.7 127.1,145.9 126.9,146.2 126.8,146.5 126.5,146.8 126.3,147.2 126.1,147.4 125.9,147.7 125.7,147.9 125.5,148.2 125.2,148.5 125.0,148.8 124.8,149.0 124.5,149.3 124.2,149.6 124.0,149.9 123.8,150.1 123.5,150.4 123.2,150.6 123.0,150.9 122.8,151.1 122.5,151.3 122.2,151.5 122.0,151.7 121.7,151.9 121.4,152.2 121.0,152.4 120.8,152.5 120.5,152.7 120.0,152.9 119.8,152.9Z M134.5,165.7 134.0,165.7 133.8,165.6 133.2,165.5 133.0,165.3 132.7,165.2 132.4,164.9 132.2,164.7 132.0,164.2 131.9,163.9 131.9,163.4 131.9,162.9 132.0,162.5 132.1,162.2 132.2,161.7 132.3,161.4 132.4,160.9 132.5,160.6 132.6,160.2 132.8,159.7 132.8,159.4 133.0,158.9 133.1,158.7 133.2,158.2 133.2,157.9 133.4,157.4 133.5,156.9 133.6,156.7 133.7,156.2 133.8,155.8 133.8,155.4 133.9,154.9 134.0,154.6 134.1,154.2 134.2,153.7 134.3,153.4 134.4,152.9 134.5,152.4 134.5,152.2 134.7,151.7 134.8,151.2 134.8,150.9 135.0,150.4 135.0,150.2 135.1,149.7 135.2,149.3 135.3,148.9 135.5,148.4 135.6,148.2 135.7,147.7 135.8,147.4 135.9,146.9 136.0,146.7 136.2,146.2 136.2,145.9 136.4,145.4 136.5,145.1 136.7,144.7 136.8,144.4 136.9,143.9 137.0,143.7 137.2,143.2 137.3,142.9 137.5,142.4 137.6,142.2 137.8,141.9 138.0,141.4 138.1,141.2 138.2,140.8 138.4,140.4 138.6,140.2 138.8,139.8 139.0,139.4 139.1,139.2 139.2,138.9 139.5,138.5 139.7,138.2 139.9,137.9 140.0,137.7 140.2,137.3 140.5,137.0 140.7,136.7 140.9,136.4 141.1,136.2 141.3,135.9 141.5,135.7 141.8,135.4 142.0,135.1 142.2,134.8 142.5,134.6 142.8,134.4 143.0,134.1 143.3,133.9 143.6,133.7 144.0,133.4 144.2,133.3 144.5,133.1 145.0,132.9 145.2,132.8 145.8,132.7 146.2,132.7 146.8,132.7 147.2,132.9 147.5,133.1 147.8,133.4 147.9,133.7 148.1,133.9 148.2,134.4 148.3,134.7 148.5,135.2 148.5,135.4 148.6,135.9 148.6,136.4 148.6,136.9 148.6,137.4 148.6,137.9 148.6,138.4 148.5,138.9 148.5,139.3 148.5,139.7 148.4,140.2 148.3,140.7 148.2,141.0 148.2,141.4 148.1,141.9 148.0,142.3 147.9,142.7 147.8,143.2 147.7,143.4 147.6,143.9 147.5,144.3 147.4,144.7 147.3,145.2 147.2,145.4 147.0,145.9 147.0,146.2 146.8,146.7 146.7,146.9 146.5,147.4 146.4,147.7 146.3,148.2 146.2,148.4 146.0,148.8 145.9,149.2 145.8,149.5 145.6,149.9 145.5,150.2 145.3,150.7 145.2,150.9 145.0,151.3 144.9,151.7 144.7,151.9 144.5,152.4 144.4,152.7 144.2,153.0 144.1,153.4 144.0,153.7 143.8,154.1 143.6,154.4 143.5,154.7 143.2,155.1 143.1,155.4 143.0,155.7 142.8,156.1 142.6,156.4 142.5,156.7 142.2,157.1 142.1,157.4 141.9,157.7 141.8,158.0 141.5,158.4 141.4,158.7 141.2,158.9 141.0,159.3 140.8,159.7 140.6,159.9 140.4,160.2 140.2,160.5 140.0,160.8 139.8,161.2 139.6,161.4 139.4,161.7 139.2,161.9 139.0,162.3 138.8,162.6 138.5,162.9 138.3,163.2 138.1,163.4 137.8,163.7 137.6,163.9 137.4,164.2 137.1,164.4 136.8,164.7 136.5,164.9 136.2,165.1 136.0,165.2 135.6,165.4 135.2,165.5 134.8,165.6 134.5,165.7Z M121.0,148.7 120.5,148.8 120.0,148.8 119.5,148.8 119.0,148.7 118.8,148.6 118.2,148.5 118.0,148.4 117.5,148.2 117.2,148.1 116.9,147.9 116.5,147.7 116.2,147.5 116.0,147.3 115.8,147.0 115.5,146.7 115.4,146.4 115.2,145.9 115.2,145.7 115.1,145.2 115.1,144.7 115.1,144.2 115.1,143.7 115.1,143.2 115.1,142.7 115.2,142.2 115.2,141.7 115.3,141.4 115.4,140.9 115.5,140.4 115.5,140.1 115.6,139.7 115.7,139.2 115.8,138.9 115.9,138.4 116.0,137.9 116.0,137.7 116.2,137.2 116.2,136.8 116.4,136.4 116.5,135.9 116.6,135.7 116.7,135.2 116.8,134.9 116.9,134.4 117.0,134.1 117.1,133.7 117.2,133.3 117.4,132.9 117.5,132.5 117.6,132.2 117.8,131.7 117.9,131.4 118.0,131.0 118.1,130.7 118.2,130.3 118.4,129.9 118.5,129.5 118.6,129.2 118.8,128.8 118.9,128.4 119.0,128.1 119.2,127.7 119.3,127.4 119.5,126.9 119.6,126.7 119.8,126.2 119.9,125.9 120.0,125.6 120.2,125.2 120.3,124.9 120.5,124.4 120.6,124.2 120.8,123.8 120.9,123.4 121.1,123.2 121.2,122.7 121.4,122.4 121.5,122.2 121.8,121.7 121.9,121.4 122.0,121.2 122.2,120.7 122.4,120.4 122.5,120.2 122.8,119.8 122.9,119.4 123.1,119.2 123.2,118.8 123.5,118.4 123.7,118.2 123.8,117.9 124.0,117.6 124.2,117.2 124.4,116.9 124.6,116.7 124.8,116.4 125.0,116.0 125.2,115.7 125.4,115.4 125.6,115.2 125.8,114.9 126.0,114.6 126.2,114.3 126.5,114.0 126.8,113.7 127.0,113.4 127.2,113.2 127.5,112.9 127.8,112.7 128.0,112.5 128.2,112.3 128.5,112.1 128.9,111.9 129.2,111.7 129.5,111.6 130.0,111.5 130.5,111.5 131.0,111.6 131.2,111.7 131.8,111.8 132.0,111.9 132.5,112.1 132.8,112.3 133.0,112.4 133.5,112.7 133.8,112.9 134.0,113.1 134.2,113.4 134.3,113.7 134.5,114.1 134.6,114.4 134.7,114.9 134.7,115.4 134.7,115.9 134.7,116.4 134.7,116.9 134.6,117.4 134.6,117.9 134.5,118.4 134.5,118.7 134.4,119.2 134.4,119.7 134.3,120.2 134.2,120.5 134.2,120.9 134.1,121.4 134.0,121.9 134.0,122.2 133.9,122.7 133.8,123.2 133.7,123.4 133.6,123.9 133.5,124.4 133.5,124.7 133.4,125.2 133.3,125.7 133.2,125.9 133.1,126.4 133.0,126.9 133.0,127.2 132.8,127.7 132.8,128.1 132.7,128.4 132.6,128.9 132.5,129.2 132.4,129.7 132.2,130.1 132.2,130.4 132.0,130.9 132.0,131.2 131.8,131.7 131.8,132.0 131.6,132.4 131.5,132.9 131.4,133.2 131.3,133.7 131.2,133.9 131.0,134.4 131.0,134.7 130.8,135.2 130.7,135.4 130.6,135.9 130.5,136.2 130.3,136.7 130.2,136.9 130.0,137.4 129.9,137.7 129.8,138.1 129.6,138.4 129.5,138.8 129.3,139.2 129.2,139.4 129.0,139.9 128.9,140.2 128.8,140.5 128.5,140.9 128.4,141.2 128.2,141.4 128.0,141.9 127.8,142.2 127.7,142.4 127.5,142.7 127.2,143.1 127.0,143.4 126.8,143.7 126.7,143.9 126.5,144.2 126.2,144.4 126.0,144.7 125.8,145.1 125.5,145.3 125.2,145.6 125.0,145.9 124.8,146.2 124.5,146.4 124.3,146.7 124.0,146.9 123.8,147.1 123.5,147.3 123.2,147.5 123.0,147.7 122.7,147.9 122.3,148.2 122.0,148.3 121.8,148.4 121.2,148.6 121.0,148.7Z M137.5,159.4 137.2,159.4 136.8,159.2 136.5,158.9 136.4,158.7 136.2,158.2 136.2,157.9 136.1,157.4 136.1,156.9 136.1,156.4 136.1,155.9 136.1,155.4 136.1,154.9 136.1,154.4 136.2,153.9 136.2,153.4 136.3,153.2 136.3,152.7 136.4,152.2 136.5,151.7 136.6,151.4 136.6,150.9 136.7,150.4 136.8,150.2 136.9,149.7 137.0,149.3 137.1,148.9 137.2,148.4 137.3,148.2 137.4,147.7 137.5,147.4 137.7,146.9 137.8,146.6 137.9,146.2 138.0,145.8 138.1,145.4 138.2,145.1 138.4,144.7 138.5,144.4 138.7,143.9 138.8,143.7 139.0,143.2 139.1,142.9 139.2,142.6 139.5,142.2 139.6,141.9 139.8,141.6 140.0,141.2 140.1,140.9 140.3,140.7 140.5,140.3 140.8,139.9 140.9,139.7 141.1,139.4 141.3,139.2 141.5,138.9 141.8,138.6 142.0,138.3 142.2,138.1 142.5,137.8 142.8,137.6 143.0,137.4 143.4,137.2 143.8,136.9 144.0,136.8 144.4,136.7 144.8,136.6 145.2,136.6 145.6,136.7 146.0,136.9 146.2,137.2 146.3,137.4 146.5,137.8 146.6,138.2 146.7,138.7 146.7,139.2 146.8,139.4 146.8,139.9 146.7,140.2 146.7,140.7 146.7,141.2 146.6,141.7 146.5,142.2 146.5,142.4 146.4,142.9 146.3,143.4 146.2,143.7 146.1,144.2 146.0,144.7 145.9,144.9 145.8,145.4 145.7,145.7 145.6,146.2 145.5,146.4 145.3,146.9 145.2,147.2 145.0,147.7 144.9,147.9 144.8,148.4 144.6,148.7 144.5,149.0 144.3,149.4 144.2,149.7 144.0,150.2 143.9,150.4 143.8,150.8 143.6,151.2 143.5,151.4 143.2,151.8 143.1,152.2 143.0,152.4 142.8,152.9 142.6,153.2 142.5,153.4 142.2,153.8 142.1,154.2 141.9,154.4 141.8,154.7 141.5,155.1 141.3,155.4 141.2,155.7 141.0,155.9 140.8,156.3 140.5,156.7 140.3,156.9 140.1,157.2 139.9,157.4 139.7,157.7 139.5,157.9 139.2,158.2 139.0,158.5 138.8,158.7 138.5,158.9 138.2,159.2 137.8,159.4 137.5,159.4Z M122.2,144.7 121.8,144.8 121.2,144.8 120.8,144.7 120.3,144.7 120.0,144.6 119.6,144.4 119.2,144.3 119.0,144.2 118.5,143.9 118.2,143.8 118.0,143.7 117.7,143.4 117.5,143.2 117.2,142.7 117.1,142.4 117.0,142.0 116.9,141.7 116.9,141.2 116.9,140.7 116.9,140.2 116.9,139.7 116.9,139.2 117.0,138.7 117.0,138.4 117.1,137.9 117.2,137.4 117.2,137.1 117.3,136.7 117.4,136.2 117.5,135.9 117.6,135.4 117.7,134.9 117.8,134.7 117.9,134.2 118.0,133.8 118.1,133.4 118.2,132.9 118.3,132.7 118.5,132.2 118.6,131.9 118.7,131.4 118.8,131.2 118.9,130.7 119.0,130.4 119.2,129.9 119.3,129.7 119.4,129.2 119.5,128.9 119.7,128.4 119.8,128.2 120.0,127.7 120.1,127.4 120.2,126.9 120.4,126.7 120.5,126.3 120.7,125.9 120.8,125.7 121.0,125.2 121.1,124.9 121.2,124.5 121.4,124.2 121.5,123.9 121.8,123.5 121.9,123.2 122.0,122.9 122.2,122.5 122.4,122.2 122.5,121.9 122.8,121.5 123.0,121.2 123.1,120.9 123.2,120.6 123.5,120.2 123.7,119.9 123.8,119.7 124.0,119.4 124.2,119.0 124.5,118.7 124.6,118.4 124.8,118.2 125.0,117.9 125.2,117.5 125.5,117.2 125.8,116.9 126.0,116.7 126.2,116.4 126.5,116.2 126.7,115.9 127.0,115.7 127.2,115.5 127.5,115.3 127.8,115.1 128.2,114.9 128.5,114.8 129.0,114.7 129.5,114.7 130.0,114.8 130.2,114.9 130.8,115.1 131.0,115.2 131.4,115.4 131.8,115.6 132.0,115.7 132.3,115.9 132.7,116.2 132.9,116.4 133.1,116.7 133.2,116.9 133.4,117.4 133.5,117.7 133.6,118.2 133.6,118.7 133.6,119.2 133.6,119.7 133.6,120.2 133.6,120.7 133.5,121.2 133.5,121.4 133.4,121.9 133.4,122.4 133.3,122.9 133.2,123.2 133.2,123.7 133.1,124.2 133.0,124.7 133.0,124.9 132.9,125.4 132.8,125.9 132.7,126.2 132.6,126.7 132.5,127.1 132.4,127.4 132.3,127.9 132.2,128.2 132.1,128.7 132.0,129.2 132.0,129.4 131.8,129.9 131.8,130.2 131.6,130.7 131.5,131.0 131.4,131.4 131.2,131.9 131.2,132.2 131.0,132.7 130.9,132.9 130.8,133.4 130.7,133.7 130.5,134.1 130.4,134.4 130.2,134.8 130.1,135.2 130.0,135.4 129.8,135.9 129.7,136.2 129.5,136.6 129.3,136.9 129.2,137.2 129.0,137.6 128.8,137.9 128.7,138.2 128.5,138.5 128.3,138.9 128.1,139.2 128.0,139.4 127.8,139.7 127.5,140.1 127.3,140.4 127.1,140.7 126.9,140.9 126.7,141.2 126.5,141.4 126.2,141.7 126.0,142.0 125.8,142.3 125.5,142.5 125.2,142.8 125.0,143.0 124.8,143.3 124.5,143.5 124.2,143.7 123.9,143.9 123.5,144.2 123.2,144.3 123.0,144.4 122.5,144.6 122.2,144.7Z M140.8,151.4 140.2,151.6 139.9,151.4 139.8,151.1 139.6,150.7 139.6,150.2 139.6,149.7 139.6,149.2 139.7,148.7 139.8,148.2 139.8,147.9 139.9,147.4 140.0,147.1 140.1,146.7 140.2,146.2 140.4,145.9 140.5,145.5 140.6,145.2 140.8,144.9 141.0,144.4 141.1,144.2 141.2,143.8 141.5,143.4 141.7,143.2 141.9,142.9 142.1,142.7 142.4,142.4 142.7,142.2 143.0,142.0 143.2,141.9 143.7,141.9 144.0,142.2 144.1,142.4 144.2,142.9 144.2,143.4 144.2,143.9 144.1,144.4 144.0,144.9 143.9,145.2 143.8,145.7 143.7,145.9 143.6,146.4 143.5,146.7 143.3,147.2 143.2,147.4 143.0,147.8 142.8,148.2 142.7,148.4 142.5,148.9 142.4,149.2 142.2,149.4 142.0,149.8 141.8,150.2 141.6,150.4 141.4,150.7 141.2,150.9 141.0,151.2 140.8,151.4Z M123.8,140.5 123.2,140.6 122.8,140.6 122.2,140.6 121.8,140.5 121.5,140.4 121.0,140.2 120.8,140.1 120.3,139.9 120.0,139.8 119.8,139.6 119.5,139.4 119.2,139.1 119.0,138.7 119.0,138.4 118.8,137.9 118.8,137.4 118.8,136.9 118.8,136.4 118.8,135.9 118.9,135.4 118.9,134.9 119.0,134.5 119.1,134.2 119.2,133.7 119.2,133.2 119.3,132.9 119.4,132.4 119.5,132.2 119.6,131.7 119.8,131.2 119.8,130.9 120.0,130.4 120.1,130.2 120.2,129.7 120.3,129.4 120.5,128.9 120.6,128.7 120.7,128.2 120.8,127.9 121.0,127.4 121.1,127.2 121.2,126.7 121.4,126.4 121.5,126.1 121.7,125.7 121.8,125.4 122.0,125.0 122.2,124.7 122.3,124.4 122.5,124.0 122.7,123.7 122.8,123.4 123.0,123.0 123.2,122.7 123.4,122.4 123.5,122.2 123.8,121.8 124.0,121.4 124.2,121.2 124.3,120.9 124.5,120.7 124.8,120.3 125.0,120.0 125.2,119.7 125.5,119.4 125.8,119.2 126.0,119.0 126.2,118.7 126.5,118.6 126.8,118.4 127.2,118.2 127.5,118.1 128.0,118.0 128.5,118.1 128.8,118.2 129.2,118.3 129.5,118.4 130.0,118.6 130.2,118.7 130.6,118.9 131.0,119.2 131.2,119.4 131.5,119.6 131.7,119.9 131.9,120.2 132.0,120.4 132.2,120.9 132.2,121.2 132.3,121.7 132.4,122.2 132.4,122.7 132.4,123.2 132.3,123.7 132.3,124.2 132.2,124.5 132.2,124.9 132.1,125.4 132.0,125.9 132.0,126.2 131.9,126.7 131.8,127.2 131.8,127.4 131.6,127.9 131.5,128.4 131.5,128.7 131.3,129.2 131.2,129.4 131.1,129.9 131.0,130.2 130.9,130.7 130.8,131.0 130.6,131.4 130.5,131.7 130.3,132.2 130.2,132.4 130.0,132.9 129.9,133.2 129.8,133.5 129.5,133.9 129.4,134.2 129.2,134.5 129.0,134.9 128.9,135.2 128.7,135.4 128.5,135.8 128.3,136.2 128.1,136.4 128.0,136.7 127.8,136.9 127.5,137.3 127.2,137.6 127.0,137.9 126.8,138.2 126.6,138.4 126.3,138.7 126.1,138.9 125.8,139.2 125.6,139.4 125.3,139.7 125.0,139.8 124.8,140.0 124.5,140.2 124.0,140.4 123.8,140.5Z M124.8,135.7 124.2,135.7 123.8,135.7 123.5,135.6 123.0,135.4 122.8,135.3 122.4,135.2 122.0,134.9 121.8,134.8 121.5,134.5 121.3,134.2 121.2,133.9 121.1,133.4 121.1,132.9 121.1,132.4 121.1,131.9 121.2,131.4 121.2,131.1 121.3,130.7 121.4,130.2 121.5,129.9 121.6,129.4 121.8,128.9 121.8,128.7 122.0,128.2 122.1,127.9 122.2,127.4 122.3,127.2 122.5,126.8 122.7,126.4 122.8,126.2 123.0,125.7 123.1,125.4 123.3,125.2 123.5,124.8 123.7,124.4 123.9,124.2 124.1,123.9 124.3,123.7 124.5,123.3 124.8,123.1 125.0,122.8 125.2,122.6 125.5,122.4 125.9,122.2 126.2,122.0 126.8,122.0 127.2,122.0 127.6,122.2 128.0,122.3 128.3,122.4 128.8,122.6 129.0,122.8 129.2,122.9 129.5,123.2 129.8,123.4 130.0,123.8 130.2,124.2 130.3,124.4 130.4,124.9 130.4,125.4 130.5,125.9 130.5,126.4 130.4,126.9 130.3,127.4 130.3,127.9 130.2,128.2 130.1,128.7 130.0,129.0 129.9,129.4 129.8,129.7 129.6,130.2 129.5,130.4 129.2,130.9 129.1,131.2 129.0,131.4 128.8,131.8 128.6,132.2 128.4,132.4 128.2,132.7 128.0,133.0 127.8,133.4 127.5,133.7 127.3,133.9 127.1,134.2 126.9,134.4 126.6,134.7 126.3,134.9 126.0,135.1 125.8,135.3 125.5,135.4 125.0,135.6 124.8,135.7Z" fill="none" stroke="#0a0a0a" stroke-width="1.05"/>
<path d="M65.6,70.2 66.0,69.9 66.2,69.7 66.5,69.4 66.7,69.2 66.9,68.9 67.1,68.7 67.3,68.4 67.5,68.1 67.8,67.7 68.0,67.4 68.1,67.2 68.3,66.9 68.5,66.5 68.7,66.2 68.8,65.9 69.0,65.6 69.2,65.2 69.3,64.9 69.5,64.6 69.7,64.2 69.8,63.9 70.0,63.5 70.2,63.1 70.3,62.9 70.5,62.4 70.6,62.1 70.8,61.8 70.9,61.4 71.0,61.1 71.2,60.6 71.3,60.4 71.5,60.0 71.6,59.6 71.8,59.4 71.9,58.9 72.0,58.6 72.2,58.1 72.3,57.9 72.5,57.4 72.5,57.1 72.7,56.6 72.8,56.4 73.0,55.9 73.0,55.6 73.2,55.1 73.3,54.9 73.4,54.4 73.5,54.1 73.6,53.6 73.8,53.2 73.8,52.9 74.0,52.4 74.0,52.1 74.1,51.6 74.2,51.1 74.3,50.9 74.4,50.4 74.5,49.9 74.5,49.6 74.6,49.1 74.7,48.6 74.7,48.1 74.8,47.9 74.8,47.4 74.8,46.9 74.8,46.4 74.8,45.9 74.7,45.6 74.5,45.2 74.2,45.0 73.8,45.0 73.4,45.1 73.1,45.4 72.8,45.6 72.6,45.9 72.4,46.1 72.2,46.4 72.0,46.7 71.8,47.0 71.5,47.4 71.3,47.6 71.2,47.9 71.0,48.2 70.8,48.6 70.6,48.9 70.5,49.1 70.2,49.6 70.1,49.9 69.9,50.1 69.8,50.5 69.6,50.9 69.4,51.1 69.2,51.6 69.1,51.9 69.0,52.1 68.8,52.6 68.6,52.9 68.5,53.2 68.3,53.6 68.2,53.9 68.0,54.4 67.9,54.6 67.8,55.1 67.6,55.4 67.5,55.7 67.3,56.1 67.2,56.4 67.1,56.9 67.0,57.1 66.8,57.6 66.7,57.9 66.5,58.4 66.5,58.6 66.3,59.1 66.2,59.4 66.1,59.9 66.0,60.1 65.8,60.6 65.8,60.9 65.6,61.4 65.5,61.8 65.4,62.1 65.3,62.6 65.2,62.9 65.1,63.4 65.0,63.8 64.9,64.2 64.8,64.7 64.8,65.0 64.7,65.4 64.6,65.9 64.5,66.4 64.5,66.7 64.4,67.2 64.4,67.7 64.4,68.2 64.4,68.7 64.4,69.2 64.5,69.5 64.7,69.9 64.9,70.2 65.2,70.3 65.6,70.2Z M99.4,159.4 99.8,159.2 100.0,159.0 100.2,158.7 100.5,158.4 100.7,158.2 100.9,157.9 101.1,157.7 101.2,157.4 101.5,156.9 101.6,156.7 101.8,156.4 102.0,155.9 102.1,155.7 102.2,155.2 102.3,154.9 102.5,154.4 102.6,154.2 102.7,153.7 102.8,153.4 102.9,152.9 103.0,152.4 103.1,152.2 103.1,151.7 103.2,151.2 103.2,150.9 103.3,150.4 103.3,149.9 103.4,149.4 103.4,148.9 103.4,148.4 103.4,147.9 103.4,147.4 103.4,146.9 103.4,146.4 103.4,145.9 103.4,145.4 103.4,144.9 103.4,144.4 103.4,143.9 103.5,143.4 103.5,143.2 103.6,142.7 103.7,142.2 103.8,141.8 103.8,141.4 104.0,140.9 104.0,140.7 104.2,140.2 104.3,139.9 104.4,139.4 104.5,139.2 104.7,138.7 104.8,138.4 104.9,137.9 105.0,137.7 105.2,137.2 105.3,136.9 105.5,136.4 105.5,136.2 105.7,135.7 105.8,135.4 105.9,134.9 106.0,134.7 106.2,134.2 106.3,133.9 106.4,133.4 106.5,133.1 106.6,132.7 106.8,132.3 106.9,131.9 107.0,131.4 107.1,131.2 107.2,130.7 107.3,130.4 107.4,129.9 107.5,129.5 107.6,129.2 107.7,128.7 107.8,128.4 107.9,127.9 108.0,127.5 108.1,127.2 108.2,126.7 108.3,126.4 108.4,125.9 108.5,125.4 108.5,125.2 108.6,124.7 108.7,124.2 108.8,123.9 108.9,123.4 109.0,122.9 109.1,122.7 109.2,122.2 109.2,121.7 109.3,121.4 109.4,120.9 109.5,120.4 109.5,120.2 109.6,119.7 109.7,119.2 109.8,118.7 109.8,118.4 109.9,117.9 109.9,117.4 110.0,117.0 110.1,116.7 110.1,116.2 110.2,115.7 110.2,115.2 110.3,114.9 110.3,114.4 110.4,113.9 110.4,113.4 110.4,112.9 110.5,112.4 110.5,111.9 110.5,111.7 110.5,111.2 110.5,110.7 110.5,110.2 110.5,109.7 110.5,109.4 110.5,108.9 110.4,108.4 110.3,107.9 110.2,107.5 110.1,107.2 110.0,106.8 109.8,106.5 109.5,106.3 109.0,106.3 108.7,106.4 108.3,106.7 108.0,106.9 107.8,107.2 107.6,107.4 107.4,107.7 107.2,107.9 107.0,108.2 106.8,108.5 106.5,108.9 106.4,109.2 106.2,109.4 106.0,109.8 105.8,110.2 105.7,110.4 105.5,110.7 105.3,111.2 105.2,111.4 105.0,111.8 104.8,112.2 104.7,112.4 104.5,112.9 104.4,113.2 104.2,113.4 104.1,113.9 104.0,114.2 103.8,114.7 103.7,114.9 103.5,115.3 103.4,115.7 103.2,116.0 103.1,116.4 103.0,116.7 102.8,117.2 102.7,117.4 102.6,117.9 102.5,118.2 102.3,118.7 102.2,118.9 102.1,119.4 102.0,119.7 101.8,120.2 101.7,120.4 101.6,120.9 101.5,121.2 101.3,121.7 101.2,122.0 101.1,122.4 101.0,122.8 100.9,123.2 100.8,123.7 100.7,123.9 100.6,124.4 100.5,124.7 100.4,125.2 100.2,125.6 100.2,125.9 100.0,126.4 100.0,126.7 99.8,127.2 99.8,127.5 99.7,127.9 99.5,128.4 99.5,128.7 99.4,129.2 99.3,129.7 99.2,129.9 99.1,130.4 99.0,130.9 99.0,131.2 98.9,131.7 98.8,132.2 98.7,132.4 98.6,132.9 98.6,133.4 98.5,133.7 98.4,134.2 98.4,134.7 98.3,135.2 98.2,135.4 98.2,135.9 98.1,136.4 98.1,136.9 98.0,137.4 98.0,137.7 97.9,138.2 97.9,138.7 97.8,139.2 97.8,139.5 97.7,139.9 97.6,140.4 97.6,140.9 97.5,141.4 97.5,141.7 97.4,142.2 97.3,142.7 97.2,142.9 97.1,143.4 97.0,143.9 97.0,144.2 96.9,144.7 96.8,145.1 96.7,145.4 96.6,145.9 96.5,146.2 96.4,146.7 96.3,147.2 96.2,147.4 96.1,147.9 96.0,148.4 96.0,148.7 95.9,149.2 95.9,149.7 95.8,150.2 95.8,150.6 95.7,150.9 95.7,151.4 95.7,151.9 95.7,152.4 95.7,152.9 95.7,153.4 95.7,153.9 95.7,154.4 95.8,154.7 95.8,155.2 95.9,155.7 96.0,156.2 96.0,156.4 96.2,156.9 96.2,157.2 96.4,157.7 96.5,157.9 96.8,158.3 97.0,158.7 97.2,158.9 97.4,159.2 97.7,159.4 98.0,159.5 98.5,159.6 99.0,159.6 99.4,159.4Z" fill="none" stroke="#0a0a0a" stroke-width="1.15" stroke-dasharray="2.2 1.5"/>
<rect x="26.5" y="23.4" width="204.1" height="219.0" fill="none" stroke="#222" stroke-width="1"/>
<line x1="26.5" y1="35.4" x2="230.6" y2="35.4" stroke="#222" stroke-width="1"/>
<line x1="66.6" y1="23.4" x2="66.6" y2="29.4" stroke="#222" stroke-width="1"/>
<text x="66.6" y="21.1" text-anchor="middle">0</text>
<line x1="126.4" y1="23.4" x2="126.4" y2="29.4" stroke="#222" stroke-width="1"/>
<text x="126.4" y="21.1" text-anchor="middle">100</text>
<line x1="186.2" y1="23.4" x2="186.2" y2="29.4" stroke="#222" stroke-width="1"/>
<text x="186.0" y="21.1" text-anchor="middle">200</text>
<line x1="214.3" y1="242.4" x2="214.3" y2="238.4" stroke="#222" stroke-width="1"/>
<line x1="26.5" y1="225.4" x2="30.5" y2="225.4" stroke="#222" stroke-width="1"/>
<text x="213.4" y="253.5" text-anchor="middle">−4</text>
<text x="23.0" y="228.8" text-anchor="end">−4</text>
<line x1="192.8" y1="242.4" x2="192.8" y2="238.4" stroke="#222" stroke-width="1"/>
<line x1="26.5" y1="203.9" x2="30.5" y2="203.9" stroke="#222" stroke-width="1"/>
<text x="191.9" y="253.5" text-anchor="middle">−3</text>
<text x="23.0" y="207.3" text-anchor="end">−3</text>
<line x1="171.3" y1="242.4" x2="171.3" y2="238.4" stroke="#222" stroke-width="1"/>
<line x1="26.5" y1="182.5" x2="30.5" y2="182.5" stroke="#222" stroke-width="1"/>
<text x="170.4" y="253.5" text-anchor="middle">−2</text>
<text x="23.0" y="185.9" text-anchor="end">−2</text>
<line x1="149.8" y1="242.4" x2="149.8" y2="238.4" stroke="#222" stroke-width="1"/>
<line x1="26.5" y1="161.0" x2="30.5" y2="161.0" stroke="#222" stroke-width="1"/>
<text x="148.9" y="253.5" text-anchor="middle">−1</text>
<text x="23.0" y="164.4" text-anchor="end">−1</text>
<line x1="128.3" y1="242.4" x2="128.3" y2="238.4" stroke="#222" stroke-width="1"/>
<line x1="26.5" y1="139.6" x2="30.5" y2="139.6" stroke="#222" stroke-width="1"/>
<text x="128.3" y="253.5" text-anchor="middle">0</text>
<text x="23.0" y="143.0" text-anchor="end">0</text>
<line x1="106.8" y1="242.4" x2="106.8" y2="238.4" stroke="#222" stroke-width="1"/>
<line x1="26.5" y1="118.1" x2="30.5" y2="118.1" stroke="#222" stroke-width="1"/>
<text x="106.8" y="253.5" text-anchor="middle">1</text>
<text x="23.0" y="121.5" text-anchor="end">1</text>
<line x1="85.3" y1="242.4" x2="85.3" y2="238.4" stroke="#222" stroke-width="1"/>
<line x1="26.5" y1="96.7" x2="30.5" y2="96.7" stroke="#222" stroke-width="1"/>
<text x="85.3" y="253.5" text-anchor="middle">2</text>
<text x="23.0" y="100.1" text-anchor="end">2</text>
<line x1="63.8" y1="242.4" x2="63.8" y2="238.4" stroke="#222" stroke-width="1"/>
<line x1="26.5" y1="75.2" x2="30.5" y2="75.2" stroke="#222" stroke-width="1"/>
<text x="63.8" y="253.5" text-anchor="middle">3</text>
<text x="23.0" y="78.7" text-anchor="end">3</text>
<line x1="42.3" y1="242.4" x2="42.3" y2="238.4" stroke="#222" stroke-width="1"/>
<line x1="26.5" y1="53.8" x2="30.5" y2="53.8" stroke="#222" stroke-width="1"/>
<text x="42.3" y="253.5" text-anchor="middle">4</text>
<text x="23.0" y="57.2" text-anchor="end">4</text>
<path d="M374.6,180.3 374.1,180.5 373.6,180.5 373.1,180.5 372.7,180.3 372.4,180.2 372.1,180.0 371.8,179.8 371.5,179.6 371.2,179.3 371.0,179.1 370.7,178.8 370.5,178.6 370.3,178.3 370.1,178.1 369.9,177.8 369.6,177.4 369.4,177.1 369.2,176.8 369.0,176.6 368.9,176.3 368.6,175.9 368.4,175.6 368.3,175.3 368.1,175.0 367.9,174.6 367.7,174.3 367.6,174.1 367.4,173.6 367.2,173.3 367.1,173.1 366.9,172.6 366.7,172.3 366.6,172.1 366.4,171.6 366.2,171.3 366.1,171.0 365.9,170.6 365.8,170.3 365.6,169.8 365.5,169.6 365.4,169.2 365.2,168.8 365.1,168.6 364.9,168.1 364.8,167.8 364.6,167.3 364.5,167.1 364.4,166.6 364.3,166.3 364.1,165.9 364.0,165.6 363.9,165.2 363.7,164.8 363.6,164.4 363.5,164.1 363.4,163.7 363.2,163.3 363.1,162.9 363.0,162.6 362.9,162.1 362.8,161.8 362.6,161.3 362.6,161.1 362.4,160.6 362.4,160.2 362.3,159.8 362.1,159.3 362.1,159.1 362.0,158.6 361.9,158.1 361.8,157.8 361.7,157.3 361.6,157.0 361.5,156.6 361.4,156.1 361.4,155.7 361.3,155.3 361.2,154.8 361.1,154.4 361.0,154.1 360.9,153.6 360.9,153.1 360.8,152.8 360.7,152.3 360.6,151.8 360.6,151.6 360.5,151.1 360.4,150.6 360.3,150.3 360.2,149.8 360.1,149.3 360.0,149.1 359.9,148.6 359.8,148.3 359.7,147.8 359.6,147.5 359.4,147.1 359.3,146.8 359.1,146.3 359.0,146.1 358.9,145.8 358.6,145.4 358.4,145.1 358.2,144.8 358.0,144.6 357.8,144.3 357.6,144.0 357.4,143.8 357.1,143.5 356.9,143.3 356.6,143.1 356.3,142.8 355.9,142.6 355.6,142.3 355.4,142.1 355.1,142.0 354.8,141.8 354.4,141.6 354.1,141.4 353.9,141.2 353.5,141.1 353.1,140.8 352.9,140.7 352.6,140.6 352.1,140.3 351.9,140.2 351.6,140.0 351.1,139.8 350.9,139.6 350.6,139.5 350.2,139.3 349.9,139.1 349.6,139.0 349.3,138.8 348.9,138.6 348.6,138.4 348.4,138.2 348.1,138.0 347.7,137.8 347.4,137.6 347.1,137.4 346.9,137.2 346.6,137.0 346.3,136.8 346.0,136.6 345.7,136.3 345.4,136.1 345.1,135.8 344.9,135.6 344.6,135.4 344.4,135.1 344.1,134.9 343.9,134.6 343.6,134.4 343.4,134.1 343.1,133.8 342.9,133.6 342.6,133.3 342.4,133.1 342.2,132.8 342.1,132.6 341.9,132.3 341.6,131.9 341.4,131.6 341.2,131.3 341.0,131.1 340.9,130.7 340.6,130.3 340.5,130.1 340.4,129.8 340.1,129.3 340.0,129.1 339.9,128.7 339.7,128.3 339.6,128.0 339.4,127.5 339.4,127.2 339.2,126.8 339.1,126.3 339.1,126.0 339.0,125.5 338.9,125.0 338.9,124.6 338.8,124.3 338.8,123.8 338.8,123.3 338.8,122.8 338.8,122.3 338.9,122.0 338.9,121.5 339.0,121.0 339.1,120.5 339.1,120.3 339.3,119.8 339.4,119.4 339.4,119.0 339.5,118.5 339.6,118.3 339.7,117.8 339.9,117.3 339.9,117.0 340.1,116.5 340.1,116.3 340.3,115.8 340.4,115.5 340.5,115.0 340.6,114.6 340.7,114.3 340.8,113.8 340.9,113.5 341.1,113.0 341.2,112.8 341.3,112.3 341.4,112.0 341.6,111.5 341.7,111.3 341.8,110.8 341.9,110.5 342.1,110.0 342.2,109.8 342.4,109.3 342.5,109.0 342.6,108.7 342.7,108.3 342.9,108.0 343.0,107.5 343.1,107.3 343.4,106.8 343.5,106.5 343.6,106.2 343.8,105.8 343.9,105.5 344.1,105.1 344.2,104.8 344.4,104.5 344.6,104.0 344.7,103.8 344.9,103.5 345.0,103.0 345.2,102.8 345.4,102.4 345.5,102.0 345.7,101.8 345.9,101.5 346.1,101.0 346.2,100.8 346.4,100.5 346.6,100.1 346.8,99.8 346.9,99.5 347.1,99.2 347.3,98.8 347.5,98.5 347.6,98.3 347.9,98.0 348.1,97.6 348.3,97.3 348.4,97.0 348.6,96.8 348.9,96.4 349.1,96.0 349.3,95.8 349.4,95.5 349.6,95.3 349.9,95.0 350.1,94.6 350.3,94.3 350.5,94.0 350.7,93.8 350.9,93.5 351.1,93.3 351.4,93.0 351.6,92.7 351.9,92.4 352.1,92.1 352.4,91.8 352.6,91.5 352.8,91.3 353.1,91.0 353.3,90.8 353.5,90.5 353.8,90.3 354.0,90.0 354.3,89.8 354.6,89.5 354.8,89.3 355.1,89.1 355.4,88.8 355.6,88.6 355.9,88.4 356.1,88.2 356.4,88.0 356.6,87.8 357.0,87.5 357.3,87.3 357.6,87.1 357.9,86.9 358.1,86.8 358.4,86.5 358.9,86.3 359.1,86.2 359.4,86.0 359.8,85.8 360.1,85.6 360.4,85.5 360.8,85.3 361.1,85.2 361.5,85.0 361.9,84.9 362.2,84.8 362.6,84.7 363.1,84.6 363.4,84.5 363.9,84.4 364.4,84.3 364.7,84.3 365.1,84.3 365.6,84.3 365.9,84.3 366.4,84.4 366.9,84.5 367.1,84.6 367.4,84.8 367.8,85.0 368.0,85.3 368.2,85.5 368.4,85.8 368.6,86.1 368.8,86.5 368.9,86.8 369.1,87.3 369.1,87.5 369.3,88.0 369.4,88.3 369.4,88.8 369.5,89.3 369.6,89.6 369.7,90.0 369.8,90.5 369.8,91.0 369.9,91.3 369.9,91.8 370.0,92.3 370.0,92.8 370.1,93.3 370.1,93.5 370.1,94.0 370.2,94.5 370.2,95.0 370.3,95.5 370.3,96.0 370.3,96.5 370.4,96.8 370.4,97.3 370.4,97.8 370.4,98.3 370.5,98.8 370.5,99.3 370.5,99.8 370.6,100.3 370.6,100.8 370.6,101.2 370.6,101.5 370.6,102.0 370.7,102.5 370.7,103.0 370.7,103.5 370.7,104.0 370.7,104.5 370.8,105.0 370.8,105.5 370.8,106.0 370.8,106.5 370.8,107.0 370.8,107.5 370.8,108.0 370.9,108.4 370.9,108.8 370.9,109.3 370.9,109.8 370.9,110.3 370.9,110.8 370.9,111.3 370.9,111.8 370.9,112.3 371.0,112.8 371.0,113.3 371.0,113.8 371.0,114.3 371.0,114.8 371.0,115.3 371.0,115.8 371.0,116.3 371.0,116.8 371.0,117.3 371.0,117.8 371.0,118.3 371.1,118.8 371.1,119.3 371.1,119.8 371.1,120.3 371.1,120.8 371.1,121.0 371.1,121.5 371.1,122.0 371.1,122.5 371.1,123.0 371.2,123.5 371.2,124.0 371.2,124.5 371.2,125.0 371.2,125.5 371.2,126.0 371.3,126.5 371.3,127.0 371.3,127.5 371.3,128.1 371.3,128.6 371.4,128.9 371.4,129.3 371.4,129.8 371.4,130.3 371.4,130.8 371.5,131.3 371.5,131.8 371.5,132.3 371.5,132.8 371.6,133.3 371.6,133.8 371.6,134.1 371.6,134.6 371.7,135.1 371.7,135.6 371.8,136.1 371.8,136.6 371.8,137.1 371.9,137.3 371.9,137.8 372.0,138.3 372.1,138.8 372.1,139.1 372.2,139.6 372.3,140.1 372.4,140.4 372.5,140.8 372.6,141.2 372.9,141.5 373.1,141.3 373.4,140.8 373.4,140.6 373.5,140.1 373.6,139.7 373.7,139.3 373.7,138.8 373.8,138.3 373.9,138.1 373.9,137.6 374.0,137.1 374.0,136.6 374.1,136.1 374.1,135.8 374.2,135.3 374.2,134.8 374.3,134.3 374.4,133.8 374.4,133.6 374.4,133.1 374.5,132.6 374.6,132.1 374.6,131.7 374.7,131.3 374.7,130.8 374.8,130.3 374.9,130.0 374.9,129.6 375.0,129.1 375.1,128.6 375.2,128.3 375.3,127.8 375.4,127.5 375.5,127.0 375.6,126.8 375.8,126.3 375.9,126.0 376.1,125.8 376.4,125.4 376.6,125.2 376.9,124.9 377.1,124.7 377.4,124.5 377.7,124.3 378.1,124.1 378.4,123.9 378.6,123.8 379.0,123.5 379.4,123.4 379.6,123.2 379.9,123.0 380.3,122.8 380.6,122.6 380.9,122.5 381.2,122.3 381.6,122.0 381.9,121.9 382.1,121.7 382.4,121.5 382.8,121.3 383.1,121.1 383.4,121.0 383.6,120.8 384.0,120.5 384.4,120.3 384.6,120.2 384.9,120.0 385.2,119.8 385.6,119.5 385.9,119.4 386.1,119.2 386.4,119.0 386.8,118.8 387.1,118.6 387.4,118.5 387.6,118.3 388.1,118.0 388.4,117.9 388.6,117.8 389.0,117.5 389.4,117.4 389.6,117.2 390.0,117.0 390.4,116.9 390.6,116.7 391.0,116.5 391.4,116.4 391.6,116.3 392.1,116.1 392.4,116.0 392.8,115.8 393.1,115.7 393.5,115.5 393.9,115.4 394.2,115.3 394.6,115.2 395.1,115.0 395.4,115.0 395.9,114.8 396.1,114.8 396.6,114.7 397.1,114.6 397.5,114.5 397.9,114.5 398.4,114.5 398.9,114.4 399.4,114.5 399.9,114.5 400.3,114.5 400.6,114.6 401.1,114.7 401.4,114.8 401.9,115.0 402.1,115.1 402.6,115.3 402.9,115.4 403.1,115.6 403.4,115.8 403.8,116.0 404.1,116.3 404.4,116.5 404.6,116.7 404.9,116.9 405.1,117.1 405.4,117.3 405.6,117.6 405.9,117.8 406.1,118.0 406.4,118.3 406.6,118.5 406.9,118.8 407.1,119.1 407.4,119.3 407.6,119.6 407.9,119.9 408.1,120.2 408.4,120.5 408.6,120.7 408.8,121.0 409.0,121.3 409.2,121.5 409.4,121.8 409.6,122.0 409.9,122.4 410.1,122.8 410.2,123.0 410.4,123.3 410.6,123.8 410.7,124.0 410.8,124.5 410.9,124.8 411.0,125.3 411.1,125.5 411.2,126.0 411.3,126.5 411.3,127.0 411.3,127.5 411.3,128.1 411.3,128.6 411.3,129.1 411.2,129.6 411.2,130.1 411.1,130.4 411.0,130.8 410.9,131.3 410.9,131.7 410.8,132.1 410.6,132.6 410.6,132.8 410.4,133.3 410.4,133.6 410.2,134.1 410.1,134.4 410.0,134.8 409.9,135.2 409.7,135.6 409.6,135.9 409.4,136.3 409.3,136.6 409.2,137.1 409.1,137.3 408.9,137.8 408.8,138.1 408.6,138.5 408.5,138.8 408.4,139.1 408.2,139.6 408.1,139.8 407.9,140.3 407.8,140.6 407.6,141.0 407.5,141.3 407.4,141.7 407.2,142.1 407.1,142.3 406.9,142.8 406.8,143.1 406.6,143.6 406.5,143.8 406.4,144.3 406.3,144.6 406.1,145.0 406.0,145.3 405.9,145.6 405.7,146.1 405.6,146.3 405.4,146.8 405.3,147.1 405.1,147.5 405.0,147.8 404.8,148.1 404.6,148.6 404.5,148.8 404.4,149.1 404.1,149.6 404.0,149.8 403.9,150.1 403.6,150.6 403.5,150.8 403.3,151.1 403.1,151.4 402.9,151.8 402.7,152.1 402.5,152.3 402.4,152.6 402.1,152.9 401.9,153.2 401.6,153.5 401.4,153.8 401.2,154.1 400.9,154.3 400.7,154.6 400.4,154.8 400.2,155.1 399.9,155.3 399.6,155.5 399.4,155.7 399.1,155.9 398.9,156.1 398.5,156.3 398.1,156.6 397.9,156.7 397.6,156.9 397.2,157.1 396.9,157.2 396.6,157.3 396.1,157.5 395.9,157.6 395.4,157.8 395.1,157.8 394.6,158.0 394.2,158.1 393.9,158.1 393.4,158.2 392.9,158.2 392.4,158.3 391.9,158.3 391.6,158.3 391.1,158.3 390.6,158.3 390.1,158.3 389.6,158.3 389.1,158.3 388.6,158.4 388.1,158.4 387.6,158.5 387.3,158.6 386.9,158.7 386.5,158.8 386.1,159.0 385.9,159.1 385.6,159.3 385.2,159.6 384.9,159.8 384.6,160.1 384.4,160.3 384.2,160.6 383.9,160.8 383.7,161.1 383.5,161.3 383.4,161.6 383.1,161.9 382.9,162.3 382.7,162.6 382.5,162.8 382.4,163.1 382.1,163.5 381.9,163.8 381.8,164.1 381.6,164.4 381.4,164.8 381.2,165.1 381.1,165.3 380.9,165.8 380.7,166.1 380.6,166.3 380.4,166.8 380.3,167.1 380.1,167.4 379.9,167.8 379.8,168.1 379.6,168.6 379.5,168.8 379.4,169.2 379.2,169.6 379.1,169.9 379.0,170.3 378.9,170.6 378.7,171.1 378.6,171.4 378.5,171.8 378.4,172.2 378.2,172.6 378.1,173.0 378.0,173.3 377.9,173.8 377.8,174.1 377.7,174.6 377.6,174.8 377.4,175.3 377.4,175.6 377.2,176.1 377.1,176.3 376.9,176.8 376.8,177.1 376.6,177.6 376.5,177.8 376.4,178.2 376.2,178.6 376.0,178.8 375.9,179.1 375.6,179.5 375.4,179.7 375.1,180.0 374.9,180.2 374.6,180.3Z M326.1,94.3 325.6,94.4 325.1,94.4 324.9,94.3 324.4,94.0 324.2,93.8 324.0,93.5 323.8,93.3 323.7,92.8 323.6,92.3 323.7,91.8 323.9,91.3 324.0,91.0 324.2,90.8 324.5,90.5 324.9,90.3 325.1,90.2 325.6,90.2 326.1,90.3 326.4,90.4 326.6,90.6 326.9,90.8 327.1,91.1 327.3,91.5 327.4,91.8 327.4,92.3 327.4,92.8 327.3,93.0 327.1,93.5 326.9,93.8 326.6,94.0 326.4,94.2 326.1,94.3Z M373.4,176.3 372.9,176.4 372.5,176.3 372.1,176.1 371.9,176.0 371.5,175.8 371.2,175.6 370.9,175.3 370.7,175.1 370.4,174.8 370.2,174.6 370.0,174.3 369.8,174.1 369.6,173.8 369.4,173.4 369.1,173.1 369.0,172.8 368.8,172.6 368.6,172.2 368.4,171.8 368.2,171.6 368.1,171.3 367.9,170.8 367.7,170.6 367.6,170.3 367.4,169.8 367.2,169.6 367.1,169.2 366.9,168.8 366.8,168.6 366.6,168.1 366.5,167.8 366.4,167.5 366.2,167.1 366.1,166.8 365.9,166.3 365.8,166.1 365.6,165.6 365.5,165.3 365.4,164.8 365.3,164.6 365.1,164.1 365.0,163.8 364.9,163.3 364.8,163.1 364.6,162.6 364.6,162.3 364.4,161.8 364.4,161.5 364.2,161.1 364.1,160.6 364.0,160.3 363.9,159.8 363.9,159.4 363.8,159.1 363.7,158.6 363.6,158.2 363.5,157.8 363.4,157.3 363.4,156.8 363.3,156.6 363.3,156.1 363.2,155.6 363.1,155.1 363.1,154.8 363.1,154.3 363.0,153.8 363.0,153.3 362.9,152.8 362.9,152.3 362.9,151.8 362.8,151.6 362.8,151.1 362.8,150.6 362.8,150.1 362.7,149.6 362.7,149.1 362.7,148.6 362.6,148.1 362.6,147.6 362.6,147.3 362.5,146.8 362.4,146.3 362.4,145.9 362.3,145.6 362.1,145.1 362.0,144.8 361.9,144.4 361.7,144.1 361.6,143.8 361.4,143.4 361.1,143.1 360.9,142.8 360.7,142.6 360.5,142.3 360.2,142.1 360.0,141.8 359.7,141.6 359.4,141.3 359.1,141.1 358.9,140.9 358.6,140.7 358.3,140.6 357.9,140.3 357.6,140.1 357.4,140.0 357.0,139.8 356.6,139.6 356.4,139.4 356.1,139.3 355.6,139.1 355.4,138.9 355.1,138.8 354.6,138.6 354.4,138.4 354.1,138.3 353.6,138.1 353.4,137.9 353.1,137.8 352.6,137.6 352.4,137.4 352.1,137.3 351.7,137.1 351.4,136.9 351.1,136.7 350.8,136.6 350.4,136.3 350.1,136.1 349.9,136.0 349.6,135.8 349.2,135.6 348.9,135.3 348.6,135.1 348.4,134.9 348.1,134.7 347.9,134.5 347.6,134.3 347.3,134.1 347.0,133.8 346.8,133.6 346.5,133.3 346.3,133.1 346.0,132.8 345.8,132.6 345.6,132.3 345.4,132.0 345.1,131.7 344.9,131.4 344.6,131.1 344.4,130.8 344.2,130.6 344.1,130.3 343.9,129.9 343.6,129.6 343.5,129.3 343.4,129.0 343.2,128.6 343.0,128.3 342.9,127.8 342.8,127.5 342.6,127.1 342.5,126.8 342.4,126.3 342.3,126.0 342.2,125.5 342.2,125.0 342.1,124.5 342.1,124.3 342.1,123.8 342.1,123.3 342.1,122.8 342.1,122.5 342.2,122.0 342.3,121.5 342.4,121.1 342.4,120.8 342.5,120.3 342.6,120.0 342.7,119.5 342.8,119.0 342.9,118.8 343.0,118.3 343.1,118.0 343.2,117.5 343.4,117.1 343.4,116.8 343.6,116.3 343.7,116.0 343.8,115.5 343.9,115.3 344.0,114.8 344.1,114.5 344.3,114.0 344.4,113.8 344.5,113.3 344.6,113.0 344.8,112.5 344.9,112.3 345.1,111.8 345.2,111.5 345.4,111.1 345.5,110.8 345.6,110.4 345.8,110.0 345.9,109.8 346.1,109.3 346.2,109.0 346.4,108.7 346.5,108.3 346.6,108.0 346.9,107.6 347.0,107.3 347.1,107.0 347.3,106.5 347.4,106.3 347.6,106.0 347.8,105.5 348.0,105.3 348.1,105.0 348.4,104.6 348.5,104.3 348.6,104.0 348.9,103.7 349.1,103.3 349.2,103.0 349.4,102.8 349.6,102.4 349.8,102.0 350.0,101.8 350.1,101.5 350.4,101.2 350.6,100.8 350.8,100.5 351.0,100.3 351.1,100.0 351.4,99.8 351.6,99.4 351.9,99.1 352.1,98.8 352.3,98.5 352.5,98.3 352.7,98.0 352.9,97.8 353.1,97.5 353.4,97.2 353.6,96.9 353.9,96.7 354.1,96.4 354.4,96.1 354.6,95.9 354.9,95.6 355.1,95.4 355.4,95.2 355.6,94.9 355.9,94.7 356.1,94.5 356.4,94.3 356.6,94.0 356.9,93.8 357.3,93.5 357.6,93.3 357.9,93.1 358.1,93.0 358.4,92.8 358.8,92.5 359.1,92.3 359.4,92.2 359.7,92.0 360.1,91.8 360.4,91.7 360.7,91.5 361.1,91.4 361.4,91.3 361.9,91.1 362.2,91.0 362.6,90.9 363.1,90.8 363.4,90.8 363.9,90.7 364.4,90.7 364.9,90.7 365.4,90.7 365.7,90.8 366.1,90.9 366.6,91.0 366.9,91.2 367.1,91.3 367.4,91.5 367.7,91.8 367.9,92.0 368.1,92.3 368.4,92.7 368.5,93.0 368.6,93.3 368.8,93.8 368.9,94.0 369.0,94.5 369.1,94.8 369.2,95.3 369.3,95.8 369.4,96.0 369.5,96.5 369.5,97.0 369.6,97.5 369.6,97.8 369.7,98.3 369.8,98.8 369.8,99.3 369.9,99.6 369.9,100.0 369.9,100.5 370.0,101.0 370.0,101.5 370.1,102.0 370.1,102.5 370.1,102.8 370.1,103.3 370.2,103.8 370.2,104.3 370.2,104.8 370.3,105.3 370.3,105.8 370.3,106.3 370.3,106.8 370.4,107.0 370.4,107.5 370.4,108.0 370.4,108.5 370.4,109.0 370.4,109.5 370.5,110.0 370.5,110.5 370.5,111.0 370.5,111.5 370.5,112.0 370.5,112.5 370.6,113.0 370.6,113.5 370.6,114.0 370.6,114.5 370.6,115.0 370.6,115.3 370.6,115.8 370.6,116.3 370.6,116.8 370.6,117.3 370.7,117.8 370.7,118.3 370.7,118.8 370.7,119.3 370.7,119.8 370.7,120.3 370.7,120.8 370.7,121.3 370.7,121.8 370.7,122.3 370.8,122.8 370.8,123.3 370.8,123.8 370.8,124.3 370.8,124.8 370.8,125.3 370.8,125.8 370.9,126.2 370.9,126.5 370.9,127.0 370.9,127.5 370.9,128.1 370.9,128.6 370.9,129.1 371.0,129.6 371.0,130.1 371.0,130.6 371.0,131.1 371.0,131.6 371.0,132.1 371.1,132.6 371.1,133.1 371.1,133.5 371.1,133.8 371.1,134.3 371.2,134.8 371.2,135.3 371.2,135.8 371.3,136.3 371.3,136.8 371.3,137.3 371.4,137.6 371.4,138.1 371.4,138.6 371.5,139.1 371.5,139.6 371.6,140.0 371.6,140.3 371.7,140.8 371.8,141.3 371.9,141.7 371.9,142.1 372.0,142.6 372.1,143.0 372.2,143.3 372.3,143.8 372.5,144.1 372.6,144.3 373.0,144.3 373.2,144.1 373.4,143.7 373.5,143.3 373.6,142.8 373.6,142.6 373.7,142.1 373.8,141.6 373.9,141.3 373.9,140.8 374.0,140.3 374.1,139.8 374.1,139.6 374.2,139.1 374.2,138.6 374.3,138.1 374.4,137.6 374.4,137.3 374.4,136.8 374.5,136.3 374.6,135.8 374.6,135.5 374.7,135.1 374.7,134.6 374.8,134.1 374.9,133.6 374.9,133.3 375.0,132.8 375.1,132.3 375.1,132.1 375.2,131.6 375.3,131.1 375.4,130.8 375.5,130.3 375.6,130.1 375.8,129.6 375.9,129.3 376.1,129.0 376.4,128.6 376.6,128.3 376.8,128.1 377.1,127.8 377.4,127.7 377.6,127.5 377.9,127.3 378.4,127.1 378.6,126.9 378.9,126.8 379.3,126.5 379.6,126.4 379.9,126.3 380.3,126.0 380.6,125.9 380.9,125.8 381.2,125.5 381.6,125.3 381.9,125.2 382.1,125.0 382.5,124.8 382.9,124.6 383.1,124.5 383.4,124.3 383.8,124.0 384.1,123.8 384.4,123.7 384.6,123.5 385.0,123.3 385.4,123.1 385.6,122.9 385.9,122.7 386.1,122.5 386.5,122.3 386.9,122.1 387.1,122.0 387.4,121.8 387.8,121.5 388.1,121.4 388.4,121.2 388.6,121.0 389.1,120.8 389.4,120.7 389.6,120.5 390.1,120.3 390.4,120.2 390.6,120.0 391.1,119.8 391.4,119.7 391.7,119.5 392.1,119.4 392.4,119.3 392.9,119.1 393.1,119.0 393.6,118.9 393.9,118.8 394.4,118.6 394.7,118.5 395.1,118.4 395.6,118.3 395.9,118.3 396.4,118.2 396.9,118.2 397.4,118.1 397.9,118.1 398.4,118.1 398.9,118.1 399.4,118.2 399.9,118.3 400.1,118.3 400.6,118.5 400.9,118.6 401.3,118.8 401.6,118.9 401.9,119.1 402.2,119.3 402.6,119.5 402.9,119.8 403.1,120.0 403.4,120.2 403.6,120.5 403.9,120.7 404.1,121.0 404.3,121.3 404.5,121.5 404.7,121.8 404.9,122.0 405.1,122.4 405.4,122.8 405.5,123.0 405.6,123.3 405.9,123.7 406.0,124.0 406.1,124.3 406.3,124.8 406.4,125.0 406.6,125.5 406.7,125.8 406.8,126.3 406.9,126.5 407.0,127.0 407.1,127.5 407.1,127.9 407.1,128.3 407.2,128.8 407.2,129.3 407.2,129.8 407.1,130.3 407.1,130.8 407.1,131.1 407.0,131.6 406.9,132.1 406.9,132.6 406.8,132.8 406.7,133.3 406.6,133.8 406.5,134.1 406.4,134.6 406.4,134.8 406.2,135.3 406.1,135.8 406.0,136.1 405.9,136.6 405.8,136.8 405.7,137.3 405.6,137.6 405.5,138.1 405.4,138.4 405.2,138.8 405.1,139.3 405.0,139.6 404.9,140.1 404.8,140.3 404.7,140.8 404.6,141.1 404.5,141.6 404.4,141.9 404.2,142.3 404.1,142.8 404.0,143.1 403.9,143.6 403.8,143.8 403.6,144.3 403.6,144.6 403.4,145.1 403.3,145.3 403.1,145.8 403.1,146.1 402.9,146.6 402.8,146.8 402.6,147.2 402.5,147.6 402.4,147.8 402.1,148.3 402.0,148.6 401.9,148.9 401.6,149.3 401.5,149.6 401.4,149.8 401.1,150.2 400.9,150.6 400.7,150.8 400.6,151.1 400.4,151.4 400.1,151.7 399.9,152.0 399.6,152.3 399.4,152.5 399.1,152.8 398.9,153.0 398.6,153.3 398.4,153.5 398.1,153.7 397.9,153.9 397.6,154.1 397.2,154.3 396.9,154.5 396.6,154.6 396.2,154.8 395.9,155.0 395.6,155.1 395.1,155.2 394.9,155.3 394.4,155.5 393.9,155.6 393.6,155.6 393.1,155.7 392.6,155.7 392.1,155.7 391.6,155.7 391.1,155.7 390.6,155.7 390.1,155.7 389.6,155.6 389.1,155.6 388.6,155.6 388.1,155.6 387.6,155.6 387.1,155.7 386.6,155.8 386.4,155.8 385.9,156.0 385.6,156.1 385.3,156.3 384.9,156.6 384.6,156.8 384.4,157.0 384.1,157.2 383.9,157.5 383.6,157.7 383.4,158.0 383.1,158.3 383.0,158.6 382.8,158.8 382.6,159.1 382.4,159.4 382.1,159.8 381.9,160.1 381.8,160.3 381.6,160.6 381.4,161.0 381.2,161.3 381.0,161.6 380.9,161.8 380.6,162.3 380.4,162.6 380.3,162.8 380.1,163.2 379.9,163.6 379.8,163.8 379.6,164.1 379.4,164.6 379.2,164.8 379.1,165.1 378.9,165.6 378.7,165.8 378.6,166.1 378.4,166.6 378.3,166.8 378.1,167.3 378.0,167.6 377.9,167.9 377.7,168.3 377.6,168.6 377.4,169.1 377.3,169.3 377.1,169.8 377.0,170.1 376.9,170.6 376.8,170.8 376.6,171.3 376.5,171.6 376.4,172.0 376.2,172.3 376.1,172.7 376.0,173.1 375.9,173.3 375.6,173.8 375.5,174.1 375.4,174.4 375.1,174.8 375.0,175.1 374.8,175.3 374.6,175.6 374.3,175.8 374.0,176.1 373.6,176.3 373.4,176.3Z M325.9,93.6 325.4,93.6 325.1,93.5 324.7,93.3 324.5,93.0 324.4,92.6 324.3,92.3 324.4,92.0 324.5,91.5 324.7,91.3 325.1,91.1 325.4,91.0 325.9,91.0 326.1,91.1 326.4,91.3 326.6,91.7 326.7,92.0 326.7,92.5 326.6,92.9 326.4,93.3 326.1,93.5 325.9,93.6Z M372.6,170.6 372.1,170.6 371.7,170.6 371.4,170.4 371.1,170.2 370.9,170.0 370.6,169.8 370.4,169.5 370.1,169.2 369.9,168.9 369.6,168.6 369.4,168.3 369.3,168.1 369.1,167.7 368.9,167.3 368.7,167.1 368.6,166.8 368.4,166.3 368.3,166.1 368.1,165.7 367.9,165.3 367.8,165.1 367.6,164.6 367.5,164.3 367.4,163.8 367.3,163.6 367.1,163.1 367.0,162.8 366.9,162.3 366.8,162.1 366.7,161.6 366.6,161.2 366.5,160.8 366.4,160.3 366.4,160.0 366.3,159.6 366.2,159.1 366.1,158.6 366.1,158.2 366.1,157.8 366.0,157.3 366.0,156.8 366.0,156.3 366.0,155.8 366.0,155.3 366.1,154.8 366.1,154.5 366.2,154.1 366.2,153.6 366.3,153.1 366.4,152.8 366.5,152.3 366.6,152.0 366.7,151.6 366.9,151.2 367.0,150.8 367.1,150.5 367.3,150.1 367.4,149.8 367.5,149.3 367.6,149.1 367.8,148.6 367.9,148.2 368.0,147.8 368.1,147.3 368.1,147.1 368.2,146.6 368.3,146.1 368.3,145.6 368.4,145.2 368.4,144.8 368.4,144.3 368.4,143.8 368.4,143.4 368.3,143.1 368.2,142.6 368.1,142.1 368.1,141.8 367.9,141.3 367.8,141.1 367.6,140.7 367.4,140.3 367.1,140.1 366.9,139.8 366.6,139.6 366.4,139.4 366.1,139.3 365.6,139.1 365.4,139.0 364.9,138.8 364.6,138.8 364.1,138.6 363.7,138.6 363.4,138.5 362.9,138.3 362.6,138.3 362.1,138.1 361.8,138.1 361.4,137.9 360.9,137.8 360.6,137.7 360.1,137.6 359.9,137.5 359.4,137.3 359.1,137.2 358.6,137.1 358.4,137.0 357.9,136.8 357.6,136.7 357.2,136.6 356.9,136.4 356.6,136.3 356.1,136.1 355.9,136.0 355.4,135.8 355.1,135.7 354.9,135.5 354.4,135.3 354.1,135.2 353.8,135.1 353.4,134.8 353.1,134.7 352.9,134.5 352.5,134.3 352.1,134.1 351.9,133.9 351.6,133.8 351.3,133.6 350.9,133.3 350.6,133.1 350.4,132.9 350.1,132.7 349.9,132.4 349.6,132.2 349.4,132.0 349.1,131.8 348.9,131.5 348.6,131.2 348.4,131.0 348.1,130.7 347.9,130.4 347.6,130.1 347.4,129.8 347.3,129.6 347.1,129.3 346.9,128.9 346.7,128.6 346.5,128.3 346.4,127.9 346.2,127.5 346.1,127.3 345.9,126.8 345.9,126.5 345.7,126.0 345.6,125.5 345.6,125.3 345.5,124.8 345.5,124.3 345.5,123.8 345.5,123.3 345.5,122.8 345.6,122.4 345.7,122.0 345.8,121.5 345.9,121.2 345.9,120.8 346.1,120.3 346.1,120.0 346.3,119.5 346.4,119.2 346.5,118.8 346.6,118.3 346.7,118.0 346.8,117.5 346.9,117.3 347.1,116.8 347.1,116.5 347.3,116.0 347.4,115.8 347.6,115.3 347.6,115.0 347.8,114.5 347.9,114.3 348.1,113.8 348.2,113.5 348.4,113.2 348.5,112.8 348.6,112.5 348.8,112.0 348.9,111.8 349.1,111.4 349.3,111.0 349.4,110.8 349.6,110.4 349.7,110.0 349.9,109.8 350.1,109.4 350.3,109.0 350.4,108.8 350.6,108.4 350.8,108.0 350.9,107.8 351.1,107.5 351.4,107.1 351.5,106.8 351.7,106.5 351.9,106.3 352.1,105.9 352.3,105.5 352.5,105.3 352.7,105.0 352.9,104.8 353.1,104.5 353.4,104.1 353.6,103.8 353.8,103.5 354.0,103.3 354.2,103.0 354.4,102.8 354.6,102.5 354.9,102.3 355.1,102.0 355.4,101.8 355.6,101.5 355.9,101.3 356.1,101.0 356.4,100.8 356.6,100.5 356.9,100.3 357.2,100.0 357.6,99.8 357.9,99.6 358.1,99.4 358.4,99.2 358.6,99.0 359.0,98.8 359.4,98.6 359.6,98.5 360.0,98.3 360.4,98.1 360.6,98.0 361.1,97.8 361.4,97.8 361.9,97.6 362.2,97.5 362.6,97.5 363.1,97.4 363.6,97.4 364.1,97.4 364.6,97.4 365.1,97.5 365.4,97.6 365.9,97.8 366.1,97.9 366.4,98.0 366.8,98.3 367.1,98.5 367.3,98.8 367.5,99.0 367.7,99.3 367.9,99.6 368.1,100.0 368.2,100.3 368.4,100.6 368.5,101.0 368.6,101.3 368.7,101.8 368.9,102.3 368.9,102.5 369.0,103.0 369.1,103.5 369.1,103.8 369.2,104.3 369.3,104.8 369.4,105.2 369.4,105.5 369.5,106.0 369.5,106.5 369.6,107.0 369.6,107.5 369.6,107.8 369.7,108.3 369.7,108.8 369.7,109.3 369.8,109.8 369.8,110.3 369.8,110.8 369.9,111.1 369.9,111.5 369.9,112.0 369.9,112.5 369.9,113.0 370.0,113.5 370.0,114.0 370.0,114.5 370.0,115.0 370.0,115.5 370.0,116.0 370.1,116.5 370.1,117.0 370.1,117.5 370.1,118.0 370.1,118.3 370.1,118.8 370.1,119.3 370.1,119.8 370.1,120.3 370.2,120.8 370.2,121.3 370.2,121.8 370.2,122.3 370.2,122.8 370.2,123.3 370.2,123.8 370.2,124.3 370.2,124.8 370.3,125.3 370.3,125.8 370.3,126.3 370.3,126.8 370.3,127.3 370.3,127.8 370.3,128.3 370.3,128.8 370.3,129.3 370.3,129.8 370.4,130.1 370.4,130.6 370.3,130.8 370.3,131.3 370.3,131.8 370.3,132.3 370.3,132.8 370.3,133.3 370.3,133.8 370.3,134.3 370.3,134.8 370.3,135.3 370.3,135.8 370.3,136.3 370.3,136.8 370.3,137.3 370.3,137.8 370.4,138.1 370.4,138.6 370.4,139.1 370.4,139.6 370.4,140.1 370.5,140.6 370.5,141.1 370.6,141.5 370.6,141.8 370.7,142.3 370.8,142.8 370.9,143.2 370.9,143.6 371.0,144.1 371.1,144.6 371.1,144.8 371.2,145.3 371.4,145.8 371.4,146.1 371.5,146.6 371.6,146.8 371.7,147.3 371.9,147.6 372.0,148.1 372.1,148.3 372.4,148.7 372.6,148.8 372.9,148.7 373.1,148.4 373.2,148.1 373.4,147.8 373.5,147.3 373.6,146.8 373.7,146.6 373.8,146.1 373.9,145.6 373.9,145.3 374.0,144.8 374.0,144.3 374.1,144.0 374.2,143.6 374.2,143.1 374.3,142.6 374.4,142.1 374.4,141.8 374.5,141.3 374.5,140.8 374.6,140.3 374.6,140.1 374.7,139.6 374.7,139.1 374.8,138.6 374.9,138.2 374.9,137.8 375.0,137.3 375.1,136.8 375.1,136.5 375.2,136.1 375.3,135.6 375.4,135.2 375.4,134.8 375.6,134.3 375.6,134.1 375.8,133.6 375.9,133.3 376.1,132.8 376.3,132.6 376.4,132.3 376.6,132.1 376.9,131.8 377.2,131.6 377.6,131.3 377.9,131.1 378.1,131.0 378.6,130.8 378.9,130.7 379.2,130.6 379.6,130.4 379.9,130.3 380.4,130.1 380.6,130.0 381.0,129.8 381.4,129.7 381.6,129.6 382.1,129.3 382.4,129.2 382.7,129.1 383.1,128.8 383.4,128.7 383.6,128.6 384.1,128.3 384.4,128.1 384.6,128.0 384.9,127.8 385.3,127.5 385.6,127.4 385.9,127.2 386.1,127.0 386.5,126.8 386.8,126.5 387.1,126.4 387.4,126.2 387.6,126.0 388.0,125.8 388.4,125.6 388.6,125.5 388.9,125.3 389.4,125.1 389.6,124.9 389.9,124.8 390.3,124.5 390.6,124.4 390.9,124.3 391.4,124.1 391.6,124.0 392.1,123.8 392.4,123.7 392.9,123.6 393.1,123.5 393.6,123.4 393.9,123.3 394.4,123.2 394.9,123.1 395.4,123.1 395.9,123.1 396.4,123.1 396.9,123.1 397.4,123.2 397.6,123.3 398.1,123.4 398.4,123.5 398.9,123.8 399.1,123.9 399.4,124.1 399.6,124.3 399.9,124.5 400.1,124.8 400.4,125.1 400.6,125.4 400.8,125.8 401.0,126.0 401.1,126.3 401.4,126.8 401.5,127.0 401.6,127.4 401.7,127.8 401.9,128.3 401.9,128.6 402.0,129.1 402.1,129.6 402.1,129.8 402.2,130.3 402.2,130.8 402.2,131.3 402.2,131.8 402.2,132.3 402.2,132.8 402.2,133.3 402.1,133.8 402.1,134.1 402.0,134.6 402.0,135.1 401.9,135.6 401.9,136.1 401.8,136.3 401.8,136.8 401.7,137.3 401.6,137.8 401.6,138.1 401.5,138.6 401.4,139.1 401.4,139.5 401.3,139.8 401.2,140.3 401.1,140.8 401.1,141.1 401.0,141.6 400.9,142.1 400.9,142.3 400.7,142.8 400.6,143.3 400.6,143.6 400.4,144.1 400.4,144.4 400.2,144.8 400.1,145.2 400.0,145.6 399.9,146.0 399.7,146.3 399.6,146.6 399.4,147.1 399.3,147.3 399.1,147.7 398.9,148.1 398.8,148.3 398.6,148.6 398.4,148.9 398.1,149.3 397.9,149.6 397.7,149.8 397.4,150.1 397.2,150.3 396.9,150.6 396.6,150.8 396.4,151.0 396.1,151.2 395.9,151.3 395.5,151.6 395.1,151.7 394.9,151.8 394.4,152.0 394.1,152.1 393.6,152.2 393.2,152.3 392.9,152.3 392.4,152.4 391.9,152.4 391.4,152.4 390.9,152.3 390.6,152.3 390.1,152.2 389.6,152.1 389.1,152.1 388.9,152.0 388.4,151.9 387.9,151.9 387.4,151.8 386.9,151.8 386.4,151.9 385.9,152.0 385.6,152.1 385.1,152.3 384.9,152.4 384.6,152.6 384.3,152.8 384.0,153.1 383.7,153.3 383.5,153.6 383.3,153.8 383.1,154.1 382.9,154.3 382.6,154.6 382.4,155.0 382.1,155.3 382.0,155.6 381.8,155.8 381.6,156.1 381.4,156.5 381.1,156.8 381.0,157.1 380.8,157.3 380.6,157.7 380.4,158.1 380.2,158.3 380.1,158.6 379.9,158.9 379.6,159.3 379.5,159.6 379.3,159.8 379.1,160.1 378.9,160.6 378.7,160.8 378.5,161.1 378.4,161.4 378.1,161.8 377.9,162.1 377.8,162.3 377.6,162.6 377.4,163.1 377.2,163.3 377.1,163.6 376.9,164.0 376.7,164.3 376.6,164.6 376.4,165.0 376.2,165.3 376.1,165.6 375.9,166.0 375.7,166.3 375.6,166.6 375.4,167.1 375.3,167.3 375.1,167.6 374.9,168.1 374.7,168.3 374.6,168.6 374.4,169.0 374.2,169.3 374.0,169.6 373.8,169.8 373.5,170.1 373.2,170.3 372.9,170.5 372.6,170.6Z M362.6,134.1 362.1,134.1 361.6,134.1 361.1,134.1 360.7,134.1 360.4,134.0 359.9,134.0 359.4,133.9 359.0,133.8 358.6,133.7 358.1,133.6 357.9,133.5 357.4,133.3 357.1,133.3 356.6,133.1 356.4,133.0 355.9,132.8 355.6,132.7 355.4,132.5 354.9,132.3 354.6,132.1 354.4,132.0 354.0,131.8 353.6,131.6 353.4,131.4 353.1,131.2 352.9,131.0 352.6,130.8 352.3,130.6 352.0,130.3 351.8,130.1 351.5,129.8 351.3,129.6 351.1,129.3 350.9,129.0 350.6,128.7 350.4,128.3 350.2,128.1 350.0,127.8 349.9,127.5 349.7,127.0 349.6,126.8 349.4,126.3 349.3,126.0 349.2,125.5 349.1,125.0 349.1,124.8 349.0,124.3 349.1,123.8 349.1,123.4 349.1,123.0 349.2,122.5 349.4,122.1 349.4,121.8 349.5,121.3 349.6,121.0 349.7,120.5 349.9,120.2 350.0,119.8 350.1,119.3 350.2,119.0 350.3,118.5 350.4,118.3 350.6,117.8 350.7,117.5 350.9,117.1 351.0,116.8 351.1,116.5 351.3,116.0 351.4,115.8 351.6,115.3 351.7,115.0 351.9,114.7 352.0,114.3 352.2,114.0 352.4,113.7 352.5,113.3 352.7,113.0 352.9,112.7 353.1,112.3 353.2,112.0 353.4,111.8 353.6,111.4 353.8,111.0 354.0,110.8 354.1,110.5 354.4,110.3 354.6,109.9 354.9,109.6 355.0,109.3 355.2,109.0 355.4,108.8 355.7,108.5 355.9,108.3 356.1,108.0 356.4,107.8 356.6,107.5 356.9,107.3 357.1,107.0 357.4,106.8 357.7,106.5 358.0,106.3 358.3,106.0 358.6,105.8 358.9,105.7 359.1,105.5 359.5,105.3 359.9,105.1 360.1,105.0 360.6,104.8 360.9,104.7 361.4,104.6 361.6,104.5 362.1,104.5 362.6,104.4 363.1,104.4 363.6,104.5 363.9,104.6 364.4,104.7 364.6,104.8 365.1,105.0 365.4,105.2 365.6,105.4 365.9,105.6 366.1,105.9 366.4,106.1 366.6,106.5 366.8,106.8 367.0,107.0 367.1,107.3 367.4,107.8 367.5,108.0 367.6,108.4 367.7,108.8 367.9,109.1 368.0,109.5 368.1,110.0 368.2,110.3 368.3,110.8 368.4,111.2 368.4,111.5 368.5,112.0 368.6,112.5 368.6,112.8 368.7,113.3 368.7,113.8 368.8,114.3 368.8,114.8 368.8,115.3 368.9,115.5 368.9,116.0 368.9,116.5 369.0,117.0 369.0,117.5 369.0,118.0 369.0,118.5 369.1,119.0 369.1,119.5 369.1,120.0 369.1,120.5 369.1,120.8 369.1,121.3 369.1,121.8 369.1,122.3 369.1,122.8 369.1,123.3 369.1,123.8 369.1,124.3 369.2,124.8 369.2,125.3 369.2,125.8 369.2,126.3 369.2,126.8 369.2,127.3 369.1,127.8 369.1,128.3 369.1,128.6 369.1,129.1 369.0,129.6 368.9,130.1 368.8,130.3 368.7,130.8 368.6,131.1 368.4,131.6 368.2,131.8 368.1,132.1 367.8,132.3 367.6,132.6 367.2,132.8 366.9,133.0 366.6,133.1 366.2,133.3 365.9,133.4 365.4,133.6 365.1,133.6 364.6,133.8 364.4,133.8 363.9,133.9 363.4,134.0 362.9,134.0 362.6,134.1Z M375.6,157.8 375.1,157.8 374.9,157.7 374.6,157.3 374.5,157.1 374.4,156.6 374.3,156.3 374.3,155.8 374.3,155.3 374.2,154.8 374.2,154.3 374.2,153.8 374.2,153.3 374.3,152.8 374.3,152.3 374.3,151.8 374.3,151.3 374.4,151.1 374.4,150.6 374.4,150.1 374.5,149.6 374.5,149.1 374.6,148.6 374.6,148.1 374.6,147.8 374.7,147.3 374.7,146.8 374.8,146.3 374.8,145.8 374.9,145.4 374.9,145.1 374.9,144.6 375.0,144.1 375.1,143.6 375.1,143.2 375.2,142.8 375.2,142.3 375.3,141.8 375.4,141.4 375.4,141.1 375.5,140.6 375.6,140.1 375.7,139.8 375.8,139.3 375.9,139.0 376.0,138.6 376.1,138.3 376.3,137.8 376.5,137.6 376.6,137.3 376.9,137.1 377.2,136.8 377.6,136.6 377.9,136.5 378.4,136.3 378.6,136.3 379.1,136.2 379.6,136.2 380.1,136.2 380.6,136.2 381.0,136.3 381.4,136.4 381.9,136.5 382.3,136.6 382.6,136.6 383.1,136.7 383.6,136.8 383.9,136.8 384.4,136.8 384.6,136.8 385.1,136.7 385.5,136.6 385.9,136.4 386.1,136.2 386.4,136.0 386.7,135.8 387.0,135.6 387.3,135.3 387.6,135.1 387.9,134.9 388.1,134.7 388.4,134.5 388.7,134.3 389.1,134.1 389.4,133.9 389.6,133.8 390.1,133.6 390.4,133.5 390.9,133.4 391.4,133.3 391.9,133.3 392.4,133.5 392.6,133.6 393.1,133.8 393.4,134.0 393.6,134.3 393.8,134.6 394.0,134.8 394.2,135.1 394.4,135.4 394.6,135.8 394.7,136.1 394.8,136.6 394.9,136.8 395.0,137.3 395.1,137.6 395.2,138.1 395.3,138.6 395.3,139.1 395.4,139.3 395.4,139.8 395.4,140.3 395.4,140.8 395.4,141.3 395.4,141.7 395.3,142.1 395.2,142.6 395.1,143.0 395.0,143.3 394.9,143.8 394.7,144.1 394.6,144.3 394.4,144.7 394.1,145.0 393.9,145.2 393.6,145.4 393.4,145.6 393.0,145.8 392.6,145.9 392.1,146.0 391.6,146.0 391.1,145.9 390.6,145.8 390.4,145.7 390.0,145.6 389.6,145.4 389.4,145.2 389.0,145.1 388.6,144.8 388.4,144.6 388.1,144.5 387.8,144.3 387.4,144.1 387.1,143.9 386.9,143.8 386.4,143.6 385.9,143.6 385.4,143.7 385.1,143.9 384.8,144.1 384.6,144.3 384.3,144.6 384.1,144.8 383.9,145.2 383.6,145.5 383.4,145.8 383.3,146.1 383.1,146.4 382.9,146.8 382.7,147.1 382.6,147.3 382.4,147.8 382.2,148.1 382.1,148.3 381.9,148.7 381.7,149.1 381.6,149.3 381.4,149.7 381.2,150.1 381.1,150.3 380.9,150.7 380.7,151.1 380.5,151.3 380.4,151.7 380.1,152.1 380.0,152.3 379.9,152.6 379.6,153.0 379.4,153.3 379.3,153.6 379.1,153.9 378.9,154.2 378.7,154.6 378.5,154.8 378.3,155.1 378.1,155.3 377.9,155.7 377.6,156.0 377.4,156.3 377.1,156.6 376.9,156.8 376.6,157.1 376.4,157.3 376.1,157.5 375.9,157.7 375.6,157.8Z M360.9,130.6 360.4,130.6 359.9,130.6 359.6,130.5 359.1,130.5 358.6,130.4 358.3,130.3 357.9,130.2 357.5,130.1 357.1,129.9 356.9,129.8 356.4,129.6 356.1,129.4 355.9,129.2 355.6,129.1 355.3,128.8 354.9,128.6 354.7,128.3 354.4,128.1 354.2,127.8 354.0,127.5 353.8,127.3 353.6,127.0 353.4,126.5 353.3,126.3 353.1,125.9 353.0,125.5 352.9,125.0 352.9,124.5 352.9,124.0 353.0,123.5 353.1,123.1 353.2,122.8 353.3,122.3 353.4,122.0 353.5,121.5 353.6,121.3 353.7,120.8 353.9,120.5 354.0,120.0 354.1,119.8 354.3,119.3 354.4,119.0 354.6,118.6 354.7,118.3 354.9,118.0 355.1,117.6 355.3,117.3 355.4,117.0 355.6,116.7 355.8,116.3 356.0,116.0 356.2,115.8 356.4,115.5 356.6,115.2 356.9,114.9 357.1,114.6 357.3,114.3 357.6,114.0 357.8,113.8 358.1,113.5 358.4,113.3 358.6,113.1 358.9,112.9 359.1,112.8 359.5,112.5 359.9,112.4 360.1,112.3 360.6,112.1 360.9,112.0 361.4,112.0 361.9,112.0 362.2,112.0 362.6,112.2 363.0,112.3 363.4,112.5 363.6,112.7 363.9,112.9 364.1,113.2 364.4,113.5 364.6,113.8 364.7,114.0 364.9,114.3 365.1,114.8 365.2,115.0 365.4,115.4 365.5,115.8 365.6,116.1 365.7,116.5 365.8,117.0 365.9,117.3 366.0,117.8 366.1,118.3 366.1,118.5 366.2,119.0 366.2,119.5 366.3,120.0 366.3,120.5 366.3,121.0 366.3,121.5 366.3,122.0 366.3,122.5 366.3,123.0 366.3,123.5 366.3,124.0 366.2,124.5 366.2,125.0 366.1,125.5 366.1,125.8 366.0,126.3 365.9,126.8 365.9,127.1 365.7,127.5 365.6,127.8 365.4,128.2 365.1,128.5 364.9,128.8 364.6,129.1 364.4,129.3 364.1,129.5 363.9,129.6 363.5,129.8 363.1,130.0 362.9,130.1 362.4,130.3 362.1,130.4 361.6,130.5 361.1,130.5 360.9,130.6Z M360.1,126.9 359.6,126.9 359.1,126.8 358.9,126.7 358.4,126.5 358.1,126.3 357.9,126.1 357.6,125.9 357.4,125.5 357.3,125.3 357.2,124.8 357.3,124.3 357.4,124.0 357.6,123.5 357.6,123.3 357.9,122.8 358.0,122.5 358.1,122.3 358.4,121.9 358.6,121.6 358.8,121.3 359.1,121.1 359.4,120.9 359.6,120.7 360.1,120.6 360.6,120.6 360.9,120.8 361.1,121.0 361.4,121.4 361.5,121.8 361.6,122.0 361.7,122.5 361.8,123.0 361.8,123.5 361.8,124.0 361.8,124.5 361.7,125.0 361.7,125.5 361.6,125.8 361.4,126.2 361.1,126.4 360.9,126.6 360.4,126.8 360.1,126.9Z" fill="none" stroke="#0a0a0a" stroke-width="1.05"/>
<path d="M340.7,54.0 341.1,53.8 341.3,53.5 341.5,53.3 341.7,53.0 341.9,52.8 342.1,52.3 342.2,52.0 342.3,51.5 342.4,51.2 342.4,50.8 342.4,50.3 342.4,49.8 342.4,49.5 342.2,49.0 342.1,48.7 341.9,48.3 341.6,48.0 341.4,47.9 341.1,47.8 340.6,47.8 340.4,47.9 340.1,48.0 339.8,48.3 339.5,48.5 339.4,48.8 339.1,49.3 339.0,49.5 338.9,49.9 338.7,50.3 338.6,50.8 338.6,51.0 338.6,51.5 338.6,52.0 338.6,52.3 338.7,52.8 338.9,53.2 339.1,53.5 339.3,53.8 339.6,54.0 339.9,54.2 340.4,54.2 340.7,54.0Z M413.0,97.8 413.4,97.7 413.7,97.5 414.1,97.3 414.4,97.1 414.6,96.8 414.9,96.6 415.1,96.3 415.2,96.0 415.4,95.8 415.6,95.5 415.9,95.1 416.0,94.8 416.2,94.5 416.4,94.2 416.6,93.8 416.7,93.5 416.9,93.2 417.0,92.8 417.1,92.5 417.4,92.1 417.5,91.8 417.6,91.4 417.7,91.0 417.9,90.8 418.0,90.3 418.1,90.0 418.3,89.5 418.4,89.3 418.5,88.8 418.6,88.5 418.8,88.0 418.9,87.8 419.0,87.3 419.1,86.9 419.2,86.5 419.3,86.0 419.4,85.8 419.5,85.3 419.6,85.0 419.7,84.5 419.8,84.0 419.9,83.8 420.0,83.3 420.1,82.8 420.1,82.5 420.2,82.0 420.3,81.5 420.4,81.3 420.5,80.8 420.5,80.3 420.6,80.0 420.7,79.5 420.7,79.0 420.8,78.5 420.9,78.3 420.9,77.8 421.0,77.3 421.0,76.8 421.1,76.3 421.1,76.0 421.1,75.5 421.2,75.0 421.2,74.5 421.2,74.0 421.3,73.5 421.3,73.0 421.3,72.5 421.3,72.0 421.3,71.5 421.3,71.0 421.3,70.5 421.2,70.0 421.2,69.5 421.1,69.0 421.1,68.8 421.0,68.3 420.9,67.8 420.8,67.5 420.7,67.0 420.6,66.8 420.4,66.3 420.2,66.0 419.9,65.8 419.6,65.6 419.4,65.5 418.9,65.5 418.6,65.6 418.2,65.8 417.9,66.0 417.6,66.3 417.4,66.5 417.2,66.8 417.0,67.0 416.8,67.3 416.6,67.6 416.4,68.0 416.2,68.3 416.0,68.5 415.9,68.8 415.6,69.3 415.5,69.5 415.4,69.8 415.1,70.3 415.0,70.5 414.9,70.9 414.7,71.3 414.6,71.5 414.4,72.0 414.3,72.3 414.1,72.8 414.0,73.0 413.9,73.5 413.8,73.8 413.6,74.3 413.5,74.5 413.4,75.0 413.3,75.3 413.1,75.8 413.0,76.0 412.9,76.5 412.8,76.8 412.7,77.3 412.6,77.6 412.5,78.0 412.4,78.5 412.3,78.8 412.2,79.3 412.1,79.6 412.0,80.0 411.9,80.5 411.8,80.8 411.7,81.3 411.6,81.8 411.6,82.0 411.5,82.5 411.4,83.0 411.4,83.3 411.3,83.8 411.2,84.3 411.1,84.8 411.1,85.0 411.0,85.5 410.9,86.0 410.9,86.5 410.9,86.9 410.8,87.3 410.8,87.8 410.7,88.3 410.7,88.8 410.6,89.3 410.6,89.8 410.6,90.3 410.6,90.5 410.6,91.0 410.6,91.5 410.6,92.0 410.6,92.3 410.6,92.8 410.7,93.3 410.7,93.8 410.8,94.3 410.9,94.7 410.9,95.0 411.0,95.5 411.1,95.8 411.3,96.3 411.4,96.5 411.6,96.9 411.9,97.3 412.1,97.5 412.4,97.7 412.8,97.8 413.0,97.8Z M356.8,195.8 357.1,195.6 357.4,195.4 357.6,195.2 357.9,194.9 358.1,194.6 358.2,194.3 358.4,194.1 358.6,193.6 358.7,193.3 358.9,193.0 359.0,192.6 359.1,192.2 359.2,191.8 359.3,191.3 359.4,191.1 359.4,190.6 359.5,190.1 359.5,189.6 359.5,189.1 359.5,188.6 359.4,188.1 359.4,187.6 359.3,187.3 359.2,186.8 359.1,186.6 358.9,186.1 358.7,185.8 358.5,185.6 358.3,185.3 358.0,185.1 357.6,184.9 357.2,184.8 357.1,184.8 356.6,184.9 356.3,185.1 356.0,185.3 355.7,185.6 355.5,185.8 355.3,186.1 355.1,186.3 354.9,186.7 354.7,187.1 354.6,187.3 354.4,187.8 354.3,188.1 354.1,188.6 354.0,188.8 353.9,189.3 353.9,189.7 353.8,190.1 353.7,190.6 353.7,191.1 353.7,191.6 353.7,192.1 353.7,192.6 353.8,193.1 353.9,193.3 354.0,193.8 354.1,194.2 354.2,194.6 354.4,194.8 354.6,195.2 354.9,195.5 355.1,195.7 355.4,195.9 355.9,196.0 356.4,196.0 356.8,195.8Z" fill="none" stroke="#0a0a0a" stroke-width="1.15" stroke-dasharray="2.2 1.5"/>
<rect x="267.6" y="24.3" width="204.1" height="218.0" fill="none" stroke="#222" stroke-width="1"/>
<line x1="267.6" y1="36.3" x2="471.7" y2="36.3" stroke="#222" stroke-width="1"/>
<line x1="279.1" y1="24.3" x2="279.1" y2="30.3" stroke="#222" stroke-width="1"/>
<text x="277.9" y="22.0" text-anchor="middle">−50</text>
<line x1="333.5" y1="24.3" x2="333.5" y2="30.3" stroke="#222" stroke-width="1"/>
<text x="333.5" y="22.0" text-anchor="middle">0</text>
<line x1="387.9" y1="24.3" x2="387.9" y2="30.3" stroke="#222" stroke-width="1"/>
<text x="388.4" y="22.0" text-anchor="middle">50</text>
<line x1="442.3" y1="24.3" x2="442.3" y2="30.3" stroke="#222" stroke-width="1"/>
<text x="443.3" y="22.0" text-anchor="middle">100</text>
<line x1="455.7" y1="242.3" x2="455.7" y2="238.3" stroke="#222" stroke-width="1"/>
<line x1="267.6" y1="225.0" x2="271.6" y2="225.0" stroke="#222" stroke-width="1"/>
<text x="454.8" y="253.4" text-anchor="middle">−4</text>
<text x="264.1" y="228.4" text-anchor="end">−4</text>
<line x1="434.1" y1="242.3" x2="434.1" y2="238.3" stroke="#222" stroke-width="1"/>
<line x1="267.6" y1="203.6" x2="271.6" y2="203.6" stroke="#222" stroke-width="1"/>
<text x="433.2" y="253.4" text-anchor="middle">−3</text>
<text x="264.1" y="207.0" text-anchor="end">−3</text>
<line x1="412.5" y1="242.3" x2="412.5" y2="238.3" stroke="#222" stroke-width="1"/>
<line x1="267.6" y1="182.2" x2="271.6" y2="182.2" stroke="#222" stroke-width="1"/>
<text x="411.6" y="253.4" text-anchor="middle">−2</text>
<text x="264.1" y="185.6" text-anchor="end">−2</text>
<line x1="390.9" y1="242.3" x2="390.9" y2="238.3" stroke="#222" stroke-width="1"/>
<line x1="267.6" y1="160.8" x2="271.6" y2="160.8" stroke="#222" stroke-width="1"/>
<text x="390.0" y="253.4" text-anchor="middle">−1</text>
<text x="264.1" y="164.2" text-anchor="end">−1</text>
<line x1="369.3" y1="242.3" x2="369.3" y2="238.3" stroke="#222" stroke-width="1"/>
<line x1="267.6" y1="139.4" x2="271.6" y2="139.4" stroke="#222" stroke-width="1"/>
<text x="369.3" y="253.4" text-anchor="middle">0</text>
<text x="264.1" y="142.8" text-anchor="end">0</text>
<line x1="347.7" y1="242.3" x2="347.7" y2="238.3" stroke="#222" stroke-width="1"/>
<line x1="267.6" y1="118.0" x2="271.6" y2="118.0" stroke="#222" stroke-width="1"/>
<text x="347.7" y="253.4" text-anchor="middle">1</text>
<text x="264.1" y="121.4" text-anchor="end">1</text>
<line x1="326.1" y1="242.3" x2="326.1" y2="238.3" stroke="#222" stroke-width="1"/>
<line x1="267.6" y1="96.6" x2="271.6" y2="96.6" stroke="#222" stroke-width="1"/>
<text x="326.1" y="253.4" text-anchor="middle">2</text>
<text x="264.1" y="100.0" text-anchor="end">2</text>
<line x1="304.5" y1="242.3" x2="304.5" y2="238.3" stroke="#222" stroke-width="1"/>
<line x1="267.6" y1="75.2" x2="271.6" y2="75.2" stroke="#222" stroke-width="1"/>
<text x="304.5" y="253.4" text-anchor="middle">3</text>
<text x="264.1" y="78.6" text-anchor="end">3</text>
<line x1="282.9" y1="242.3" x2="282.9" y2="238.3" stroke="#222" stroke-width="1"/>
<line x1="267.6" y1="53.8" x2="271.6" y2="53.8" stroke="#222" stroke-width="1"/>
<text x="282.9" y="253.4" text-anchor="middle">4</text>
<text x="264.1" y="57.2" text-anchor="end">4</text>
<path d="M670.4,93.9 670.0,93.9 669.7,93.7 669.5,93.4 669.4,93.0 669.3,92.7 669.3,92.2 669.3,91.7 669.4,91.2 669.4,90.7 669.4,90.4 669.5,89.9 669.6,89.4 669.7,89.2 669.8,88.7 669.9,88.2 670.0,87.9 670.1,87.4 670.2,87.2 670.3,86.7 670.4,86.4 670.5,85.9 670.6,85.6 670.8,85.2 670.9,84.8 671.1,84.4 671.1,84.1 671.3,83.7 671.4,83.4 671.6,82.9 671.7,82.7 671.9,82.2 672.0,81.9 672.1,81.6 672.3,81.2 672.4,80.9 672.6,80.4 672.8,80.2 672.9,79.9 673.1,79.4 673.2,79.2 673.4,78.8 673.6,78.4 673.7,78.2 673.9,77.8 674.1,77.4 674.2,77.2 674.4,76.8 674.6,76.4 674.8,76.2 674.9,75.9 675.1,75.5 675.3,75.2 675.5,74.9 675.6,74.6 675.9,74.2 676.1,73.9 676.3,73.7 676.4,73.4 676.6,73.1 676.9,72.7 677.1,72.4 677.3,72.2 677.5,71.9 677.7,71.7 677.9,71.4 678.1,71.1 678.4,70.9 678.6,70.6 678.9,70.4 679.1,70.1 679.4,69.9 679.8,69.7 680.1,69.5 680.6,69.5 681.0,69.7 681.2,69.9 681.4,70.4 681.4,70.7 681.5,71.2 681.5,71.7 681.5,72.2 681.4,72.7 681.4,72.9 681.3,73.4 681.2,73.9 681.1,74.2 681.0,74.7 680.9,75.2 680.9,75.4 680.7,75.9 680.6,76.2 680.5,76.7 680.4,77.0 680.3,77.4 680.1,77.8 680.0,78.2 679.9,78.6 679.8,78.9 679.6,79.3 679.5,79.7 679.4,79.9 679.2,80.4 679.1,80.7 678.9,81.2 678.8,81.4 678.6,81.8 678.5,82.2 678.4,82.4 678.2,82.9 678.1,83.2 677.9,83.5 677.7,83.9 677.6,84.2 677.4,84.6 677.3,84.9 677.1,85.2 676.9,85.6 676.7,85.9 676.6,86.2 676.4,86.6 676.2,86.9 676.1,87.2 675.9,87.5 675.7,87.9 675.5,88.2 675.4,88.4 675.1,88.8 674.9,89.2 674.7,89.4 674.6,89.7 674.4,89.9 674.1,90.3 673.9,90.7 673.7,90.9 673.5,91.2 673.4,91.4 673.1,91.7 672.9,92.0 672.6,92.3 672.4,92.5 672.1,92.8 671.9,93.0 671.6,93.3 671.4,93.5 671.1,93.7 670.6,93.9 670.4,93.9Z M622.9,171.7 622.4,171.7 621.9,171.7 621.4,171.7 621.1,171.6 620.6,171.5 620.3,171.4 619.9,171.3 619.6,171.1 619.2,170.9 618.9,170.7 618.6,170.5 618.4,170.3 618.1,170.1 617.9,169.8 617.6,169.5 617.4,169.2 617.1,168.9 617.0,168.7 616.8,168.4 616.6,168.2 616.4,167.7 616.2,167.4 616.1,167.2 615.9,166.7 615.8,166.4 615.6,166.1 615.5,165.7 615.4,165.4 615.2,164.9 615.1,164.7 615.0,164.2 614.9,163.9 614.8,163.4 614.7,162.9 614.6,162.7 614.5,162.2 614.4,161.7 614.3,161.4 614.2,160.9 614.1,160.4 614.1,160.2 614.0,159.7 613.9,159.2 613.9,158.9 613.8,158.4 613.7,157.9 613.6,157.7 613.5,157.2 613.4,156.7 613.4,156.4 613.3,155.9 613.2,155.4 613.1,155.2 613.0,154.7 612.9,154.4 612.7,153.9 612.6,153.7 612.5,153.2 612.4,152.9 612.1,152.4 612.0,152.2 611.9,151.9 611.7,151.4 611.5,151.2 611.4,150.9 611.1,150.5 610.9,150.2 610.8,149.9 610.6,149.7 610.4,149.4 610.1,149.1 609.9,148.8 609.6,148.5 609.4,148.2 609.1,147.9 608.9,147.7 608.6,147.5 608.4,147.2 608.1,147.0 607.9,146.8 607.6,146.7 607.3,146.4 606.9,146.2 606.6,146.1 606.3,145.9 605.9,145.8 605.4,145.7 605.1,145.6 604.6,145.6 604.1,145.6 603.8,145.7 603.4,145.7 602.9,145.8 602.6,145.9 602.1,146.0 601.8,146.2 601.4,146.3 601.1,146.4 600.7,146.7 600.4,146.8 600.1,146.9 599.7,147.2 599.4,147.3 599.1,147.5 598.8,147.7 598.4,147.9 598.1,148.1 597.9,148.2 597.6,148.4 597.2,148.7 596.9,148.8 596.6,149.0 596.3,149.2 595.9,149.4 595.6,149.5 595.4,149.7 594.9,149.9 594.6,150.0 594.2,150.2 593.9,150.3 593.4,150.4 593.1,150.5 592.6,150.6 592.1,150.6 591.9,150.7 591.4,150.7 591.1,150.7 590.6,150.6 590.1,150.5 589.9,150.4 589.4,150.2 589.1,150.1 588.9,149.9 588.5,149.7 588.2,149.4 588.0,149.2 587.7,148.9 587.5,148.7 587.4,148.4 587.1,148.0 587.0,147.7 586.9,147.4 586.7,146.9 586.6,146.7 586.5,146.2 586.4,145.8 586.3,145.4 586.3,144.9 586.2,144.4 586.2,143.9 586.2,143.4 586.2,142.9 586.2,142.4 586.2,141.9 586.2,141.4 586.3,140.9 586.3,140.4 586.3,139.9 586.3,139.4 586.4,138.9 586.4,138.4 586.4,137.9 586.4,137.7 586.4,137.2 586.5,136.7 586.5,136.2 586.5,135.7 586.5,135.2 586.5,134.7 586.6,134.2 586.6,133.7 586.6,133.2 586.6,132.7 586.7,132.4 586.7,131.9 586.8,131.4 586.8,130.9 586.9,130.4 586.9,130.0 586.9,129.7 587.0,129.2 587.1,128.7 587.1,128.2 587.2,127.9 587.3,127.4 587.4,126.9 587.4,126.7 587.5,126.2 587.6,125.7 587.7,125.4 587.8,124.9 587.9,124.4 587.9,124.2 588.1,123.7 588.1,123.3 588.3,122.9 588.4,122.4 588.5,122.2 588.6,121.7 588.7,121.4 588.8,120.9 588.9,120.6 589.0,120.2 589.1,119.8 589.3,119.4 589.4,119.0 589.5,118.7 589.6,118.3 589.8,117.9 589.9,117.6 590.1,117.2 590.2,116.9 590.4,116.4 590.5,116.2 590.6,115.7 590.8,115.4 590.9,115.1 591.1,114.7 591.2,114.4 591.4,114.0 591.6,113.7 591.7,113.4 591.9,113.0 592.1,112.7 592.2,112.4 592.4,112.0 592.6,111.7 592.7,111.4 592.9,111.1 593.1,110.7 593.3,110.4 593.5,110.2 593.6,109.9 593.9,109.5 594.1,109.2 594.3,108.9 594.5,108.7 594.6,108.4 594.9,108.0 595.1,107.7 595.4,107.4 595.6,107.2 595.8,106.9 596.0,106.7 596.2,106.4 596.4,106.1 596.6,105.8 596.9,105.6 597.1,105.3 597.4,105.0 597.6,104.8 597.9,104.5 598.1,104.3 598.4,104.1 598.6,103.9 598.9,103.6 599.2,103.4 599.5,103.2 599.8,102.9 600.1,102.7 600.4,102.5 600.6,102.3 600.9,102.2 601.3,101.9 601.6,101.7 601.9,101.6 602.3,101.4 602.6,101.2 602.9,101.1 603.4,101.0 603.6,100.9 604.1,100.7 604.6,100.7 604.9,100.6 605.4,100.5 605.9,100.5 606.4,100.5 606.9,100.6 607.4,100.7 607.6,100.7 608.1,100.9 608.4,101.0 608.8,101.2 609.1,101.4 609.4,101.5 609.6,101.7 609.9,101.9 610.2,102.2 610.4,102.4 610.6,102.7 610.9,103.0 611.1,103.3 611.4,103.7 611.5,103.9 611.7,104.2 611.9,104.6 612.0,104.9 612.1,105.2 612.3,105.7 612.4,105.9 612.6,106.4 612.7,106.7 612.8,107.2 612.9,107.6 613.0,107.9 613.1,108.4 613.1,108.9 613.2,109.2 613.3,109.7 613.3,110.2 613.4,110.7 613.4,111.2 613.4,111.4 613.4,111.9 613.4,112.4 613.4,112.9 613.4,113.4 613.4,113.9 613.4,114.3 613.4,114.7 613.3,115.2 613.3,115.7 613.3,116.2 613.2,116.7 613.1,117.1 613.1,117.4 613.0,117.9 613.0,118.4 612.9,118.8 612.8,119.2 612.8,119.7 612.7,120.2 612.6,120.4 612.5,120.9 612.4,121.3 612.3,121.7 612.2,122.2 612.1,122.4 612.0,122.9 611.9,123.4 611.8,123.7 611.7,124.2 611.6,124.4 611.5,124.9 611.4,125.3 611.3,125.7 611.2,126.2 611.1,126.4 611.0,126.9 610.9,127.2 610.8,127.7 610.7,128.2 610.6,128.4 610.5,128.9 610.4,129.4 610.4,129.7 610.3,130.2 610.2,130.7 610.2,131.2 610.2,131.7 610.1,131.9 610.1,132.3 610.2,132.7 610.2,133.2 610.3,133.7 610.4,134.2 610.5,134.4 610.6,134.9 610.8,135.2 611.0,135.4 611.1,135.7 611.4,135.9 611.7,136.2 612.1,136.4 612.4,136.6 612.6,136.7 613.1,136.8 613.6,136.9 614.0,136.9 614.4,136.9 614.8,136.9 615.1,136.9 615.6,136.8 616.1,136.7 616.4,136.6 616.9,136.5 617.1,136.4 617.6,136.2 617.9,136.1 618.3,135.9 618.6,135.7 618.9,135.6 619.2,135.4 619.6,135.2 619.9,134.9 620.1,134.8 620.4,134.6 620.7,134.4 621.0,134.2 621.4,133.9 621.6,133.7 621.9,133.5 622.1,133.3 622.4,133.1 622.7,132.9 623.1,132.7 623.4,132.4 623.6,132.2 623.9,132.1 624.2,131.9 624.6,131.7 624.9,131.4 625.1,131.3 625.5,131.2 625.9,130.9 626.1,130.8 626.6,130.7 626.9,130.6 627.4,130.4 627.6,130.4 628.1,130.3 628.6,130.3 629.1,130.3 629.6,130.3 630.1,130.4 630.4,130.5 630.9,130.7 631.1,130.8 631.4,130.9 631.9,131.2 632.1,131.3 632.4,131.5 632.6,131.8 632.9,132.0 633.1,132.2 633.4,132.5 633.6,132.8 633.9,133.2 634.1,133.4 634.2,133.7 634.4,133.9 634.6,134.4 634.8,134.7 634.9,134.9 635.1,135.4 635.2,135.7 635.4,136.0 635.5,136.4 635.6,136.8 635.8,137.2 635.9,137.6 636.0,137.9 636.1,138.4 636.2,138.7 636.3,139.2 636.4,139.7 636.4,139.9 636.5,140.4 636.6,140.9 636.6,141.4 636.6,141.7 636.7,142.2 636.7,142.7 636.8,143.2 636.8,143.7 636.8,144.2 636.8,144.7 636.8,145.2 636.8,145.7 636.8,146.2 636.8,146.7 636.7,147.2 636.7,147.7 636.7,148.2 636.6,148.4 636.6,148.9 636.5,149.4 636.5,149.9 636.4,150.4 636.4,150.7 636.3,151.2 636.2,151.7 636.1,152.0 636.1,152.4 636.0,152.9 635.9,153.2 635.8,153.7 635.7,154.2 635.6,154.4 635.5,154.9 635.4,155.3 635.3,155.7 635.1,156.1 635.1,156.4 634.9,156.9 634.8,157.2 634.7,157.7 634.6,157.9 634.4,158.4 634.3,158.7 634.1,159.1 634.0,159.4 633.9,159.7 633.7,160.2 633.6,160.4 633.4,160.8 633.3,161.2 633.1,161.4 632.9,161.9 632.8,162.2 632.6,162.4 632.4,162.9 632.3,163.2 632.1,163.4 631.9,163.8 631.7,164.2 631.5,164.4 631.4,164.7 631.1,165.0 630.9,165.4 630.7,165.7 630.5,165.9 630.4,166.2 630.1,166.4 629.9,166.8 629.6,167.1 629.4,167.4 629.2,167.7 629.0,167.9 628.7,168.2 628.5,168.4 628.2,168.7 628.0,168.9 627.7,169.2 627.4,169.4 627.1,169.6 626.9,169.8 626.6,170.0 626.4,170.2 626.1,170.4 625.7,170.7 625.4,170.8 625.1,170.9 624.7,171.2 624.4,171.3 624.0,171.4 623.6,171.5 623.1,171.6 622.9,171.7Z M632.9,221.8 632.4,221.8 632.1,221.7 631.9,221.4 631.6,221.0 631.6,220.7 631.5,220.2 631.5,219.7 631.5,219.2 631.6,218.7 631.7,218.4 631.9,218.0 632.1,217.7 632.2,217.4 632.4,217.2 632.8,216.9 633.1,216.8 633.6,216.9 633.9,217.1 634.1,217.4 634.2,217.7 634.3,218.2 634.3,218.7 634.3,219.2 634.2,219.7 634.1,220.0 634.0,220.4 633.9,220.7 633.6,221.1 633.4,221.4 633.1,221.6 632.9,221.8Z M593.9,145.2 593.4,145.2 593.1,145.2 592.6,145.1 592.2,144.9 591.9,144.7 591.6,144.5 591.4,144.3 591.1,144.0 590.9,143.7 590.8,143.4 590.6,143.0 590.5,142.7 590.4,142.2 590.3,141.9 590.2,141.4 590.2,140.9 590.1,140.7 590.1,140.2 590.0,139.7 590.0,139.2 589.9,138.7 589.9,138.2 589.9,137.9 589.9,137.4 589.8,136.9 589.8,136.4 589.8,135.9 589.8,135.4 589.7,134.9 589.7,134.4 589.7,133.9 589.7,133.4 589.7,132.9 589.7,132.4 589.7,131.9 589.8,131.4 589.8,130.9 589.8,130.4 589.9,129.9 589.9,129.4 589.9,129.2 590.0,128.7 590.0,128.2 590.1,127.7 590.2,127.4 590.2,126.9 590.3,126.4 590.4,125.9 590.5,125.7 590.6,125.2 590.6,124.7 590.7,124.4 590.8,123.9 590.9,123.6 591.0,123.2 591.1,122.7 591.2,122.4 591.4,121.9 591.4,121.7 591.6,121.2 591.7,120.9 591.8,120.4 591.9,120.1 592.1,119.7 592.1,119.4 592.3,118.9 592.4,118.7 592.6,118.2 592.7,117.9 592.9,117.4 593.0,117.2 593.1,116.8 593.3,116.4 593.4,116.2 593.6,115.7 593.8,115.4 593.9,115.2 594.1,114.7 594.3,114.4 594.4,114.2 594.6,113.8 594.9,113.4 595.0,113.2 595.2,112.9 595.4,112.5 595.6,112.2 595.8,111.9 596.0,111.7 596.2,111.4 596.4,111.1 596.6,110.8 596.9,110.4 597.1,110.2 597.3,109.9 597.6,109.7 597.8,109.4 598.0,109.2 598.3,108.9 598.5,108.7 598.8,108.4 599.0,108.2 599.3,107.9 599.6,107.7 599.9,107.4 600.1,107.2 600.4,107.1 600.7,106.9 601.1,106.7 601.4,106.5 601.6,106.3 602.0,106.2 602.4,106.0 602.6,105.9 603.1,105.7 603.4,105.7 603.9,105.6 604.4,105.5 604.9,105.5 605.4,105.5 605.9,105.6 606.1,105.7 606.6,105.8 606.9,106.0 607.2,106.2 607.6,106.4 607.9,106.7 608.1,106.9 608.4,107.2 608.6,107.4 608.8,107.7 608.9,107.9 609.1,108.3 609.3,108.7 609.4,108.9 609.6,109.4 609.7,109.7 609.9,110.1 610.0,110.4 610.1,110.9 610.2,111.2 610.2,111.7 610.3,112.2 610.4,112.7 610.4,112.9 610.5,113.4 610.5,113.9 610.5,114.4 610.5,114.9 610.5,115.4 610.5,115.9 610.5,116.4 610.4,116.9 610.4,117.2 610.4,117.7 610.3,118.2 610.2,118.7 610.2,119.2 610.1,119.4 610.0,119.9 609.9,120.4 609.9,120.7 609.8,121.2 609.7,121.7 609.6,121.9 609.5,122.4 609.4,122.8 609.3,123.2 609.2,123.7 609.1,123.9 609.0,124.4 608.9,124.7 608.8,125.2 608.6,125.5 608.5,125.9 608.4,126.4 608.3,126.7 608.2,127.2 608.1,127.4 608.0,127.9 607.9,128.2 607.8,128.7 607.6,129.1 607.6,129.4 607.4,129.9 607.4,130.2 607.3,130.7 607.1,131.1 607.1,131.4 607.0,131.9 606.9,132.2 606.8,132.7 606.7,133.2 606.6,133.4 606.6,133.9 606.4,134.4 606.4,134.7 606.3,135.2 606.2,135.7 606.1,135.9 606.0,136.4 605.9,136.7 605.7,137.2 605.6,137.4 605.4,137.9 605.3,138.2 605.1,138.4 604.9,138.8 604.6,139.1 604.4,139.4 604.2,139.7 603.9,139.9 603.7,140.2 603.4,140.4 603.1,140.6 602.9,140.8 602.6,140.9 602.4,141.2 602.0,141.4 601.6,141.6 601.4,141.8 601.1,141.9 600.7,142.2 600.4,142.3 600.1,142.5 599.8,142.7 599.4,142.9 599.1,143.0 598.9,143.2 598.4,143.4 598.1,143.6 597.9,143.7 597.5,143.9 597.1,144.1 596.9,144.2 596.4,144.4 596.1,144.5 595.8,144.7 595.4,144.8 595.1,144.9 594.6,145.0 594.1,145.1 593.9,145.2Z M624.1,164.0 623.6,164.0 623.1,164.0 622.6,164.0 622.4,163.9 621.9,163.7 621.6,163.6 621.3,163.4 621.0,163.2 620.7,162.9 620.5,162.7 620.2,162.4 620.1,162.2 619.9,161.9 619.6,161.6 619.4,161.2 619.3,160.9 619.1,160.6 618.9,160.2 618.8,159.9 618.6,159.4 618.5,159.2 618.4,158.7 618.3,158.4 618.1,157.9 618.1,157.7 617.9,157.2 617.9,156.9 617.7,156.4 617.6,156.0 617.6,155.7 617.4,155.2 617.4,154.9 617.3,154.4 617.2,153.9 617.1,153.7 617.0,153.2 616.9,152.7 616.8,152.4 616.7,151.9 616.6,151.5 616.6,151.2 616.5,150.7 616.4,150.3 616.3,149.9 616.2,149.4 616.2,148.9 616.1,148.7 616.1,148.2 616.0,147.7 616.0,147.2 616.0,146.7 616.0,146.2 616.1,145.7 616.2,145.4 616.4,144.9 616.5,144.7 616.6,144.3 616.9,143.9 617.1,143.7 617.3,143.4 617.5,143.2 617.8,142.9 618.1,142.7 618.3,142.4 618.6,142.2 618.9,141.9 619.1,141.7 619.4,141.6 619.6,141.4 620.0,141.2 620.3,140.9 620.6,140.7 620.9,140.5 621.1,140.3 621.4,140.2 621.8,139.9 622.1,139.7 622.4,139.5 622.6,139.4 623.0,139.2 623.4,138.9 623.6,138.8 623.9,138.7 624.4,138.4 624.6,138.3 625.0,138.2 625.4,138.0 625.8,137.9 626.1,137.8 626.6,137.7 627.1,137.7 627.6,137.7 628.1,137.8 628.6,137.9 628.9,138.0 629.1,138.2 629.6,138.4 629.9,138.7 630.1,138.9 630.4,139.2 630.6,139.4 630.8,139.7 631.0,139.9 631.1,140.2 631.4,140.7 631.5,140.9 631.6,141.2 631.8,141.7 631.9,141.9 632.1,142.4 632.1,142.7 632.3,143.2 632.4,143.7 632.4,143.9 632.5,144.4 632.6,144.9 632.6,145.4 632.7,145.7 632.7,146.2 632.7,146.7 632.7,147.2 632.7,147.7 632.7,148.2 632.7,148.7 632.6,149.0 632.6,149.4 632.6,149.9 632.5,150.4 632.4,150.9 632.4,151.2 632.3,151.7 632.2,152.2 632.1,152.4 632.0,152.9 631.9,153.4 631.8,153.7 631.7,154.2 631.6,154.4 631.5,154.9 631.4,155.2 631.2,155.7 631.1,155.9 630.9,156.4 630.8,156.7 630.6,157.0 630.5,157.4 630.3,157.7 630.1,158.1 630.0,158.4 629.8,158.7 629.6,159.0 629.4,159.4 629.2,159.7 629.1,159.9 628.9,160.2 628.6,160.5 628.4,160.8 628.1,161.1 627.9,161.4 627.7,161.7 627.5,161.9 627.2,162.2 627.0,162.4 626.7,162.7 626.4,162.9 626.1,163.0 625.9,163.2 625.6,163.4 625.1,163.6 624.9,163.7 624.4,163.9 624.1,164.0Z M633.1,220.7 632.6,220.9 632.3,220.7 632.1,220.4 632.0,219.9 632.0,219.4 632.1,218.9 632.2,218.7 632.4,218.2 632.6,217.9 632.9,217.7 633.4,217.8 633.6,218.2 633.7,218.4 633.8,218.9 633.8,219.4 633.6,219.8 633.5,220.2 633.4,220.4 633.1,220.7Z M597.4,138.9 596.9,139.0 596.4,138.9 596.1,138.9 595.6,138.7 595.4,138.6 595.1,138.4 594.9,138.2 594.6,137.9 594.4,137.5 594.2,137.2 594.1,136.9 593.9,136.4 593.8,136.2 593.6,135.7 593.6,135.4 593.5,134.9 593.4,134.6 593.3,134.2 593.2,133.7 593.2,133.2 593.1,132.9 593.1,132.4 593.1,131.9 593.0,131.4 593.0,130.9 593.0,130.4 593.0,129.9 593.1,129.4 593.1,128.9 593.1,128.4 593.2,128.2 593.2,127.7 593.3,127.2 593.4,126.7 593.4,126.4 593.5,125.9 593.6,125.4 593.6,125.0 593.7,124.7 593.8,124.2 593.9,123.9 594.0,123.4 594.1,122.9 594.2,122.7 594.4,122.2 594.4,121.9 594.6,121.4 594.7,121.2 594.9,120.7 594.9,120.4 595.1,119.9 595.2,119.7 595.4,119.2 595.5,118.9 595.6,118.6 595.9,118.2 596.0,117.9 596.1,117.5 596.3,117.2 596.5,116.9 596.6,116.6 596.9,116.2 597.1,115.9 597.2,115.7 597.4,115.4 597.6,115.0 597.9,114.7 598.1,114.4 598.3,114.2 598.5,113.9 598.8,113.7 599.0,113.4 599.2,113.2 599.5,112.9 599.8,112.7 600.1,112.4 600.4,112.2 600.6,112.0 600.9,111.8 601.2,111.7 601.6,111.4 601.9,111.3 602.4,111.2 602.6,111.1 603.1,111.0 603.6,111.0 604.1,111.1 604.4,111.2 604.9,111.3 605.1,111.5 605.4,111.7 605.7,111.9 605.9,112.2 606.1,112.5 606.4,112.9 606.5,113.2 606.6,113.5 606.8,113.9 606.9,114.2 607.0,114.7 607.1,115.2 607.1,115.5 607.2,115.9 607.2,116.4 607.3,116.9 607.3,117.4 607.3,117.9 607.2,118.4 607.2,118.9 607.1,119.4 607.1,119.7 607.0,120.2 607.0,120.7 606.9,121.1 606.8,121.4 606.7,121.9 606.6,122.3 606.6,122.7 606.4,123.2 606.4,123.4 606.2,123.9 606.1,124.2 606.0,124.7 605.9,125.1 605.8,125.4 605.7,125.9 605.6,126.2 605.5,126.7 605.4,126.9 605.3,127.4 605.1,127.8 605.0,128.2 604.9,128.7 604.8,128.9 604.7,129.4 604.6,129.7 604.5,130.2 604.4,130.4 604.3,130.9 604.1,131.3 604.0,131.7 603.9,132.1 603.8,132.4 603.6,132.8 603.5,133.2 603.4,133.5 603.2,133.9 603.1,134.2 602.9,134.6 602.8,134.9 602.6,135.2 602.4,135.5 602.1,135.9 602.0,136.2 601.7,136.4 601.5,136.7 601.3,136.9 601.0,137.2 600.7,137.4 600.4,137.7 600.1,137.8 599.9,138.0 599.6,138.2 599.2,138.4 598.9,138.5 598.5,138.7 598.1,138.8 597.6,138.9 597.4,138.9Z M624.9,156.5 624.4,156.5 623.9,156.5 623.6,156.4 623.2,156.2 622.9,155.9 622.6,155.7 622.4,155.4 622.3,155.2 622.1,154.9 621.9,154.5 621.8,154.2 621.6,153.9 621.5,153.4 621.4,153.2 621.3,152.7 621.2,152.2 621.1,151.9 621.1,151.4 621.0,150.9 621.0,150.4 621.0,149.9 621.0,149.4 621.1,148.9 621.2,148.7 621.3,148.2 621.4,147.8 621.6,147.4 621.7,147.2 621.9,146.8 622.1,146.4 622.4,146.2 622.6,145.9 622.8,145.7 623.1,145.4 623.4,145.2 623.6,145.0 623.9,144.9 624.4,144.7 624.6,144.6 625.1,144.5 625.6,144.4 626.1,144.5 626.6,144.7 626.9,144.8 627.1,145.0 627.4,145.2 627.6,145.5 627.9,145.9 628.0,146.2 628.1,146.5 628.3,146.9 628.4,147.3 628.5,147.7 628.6,148.2 628.6,148.7 628.6,149.2 628.6,149.7 628.6,150.2 628.5,150.7 628.4,151.2 628.4,151.4 628.3,151.9 628.1,152.3 628.0,152.7 627.9,153.0 627.7,153.4 627.6,153.7 627.4,154.1 627.2,154.4 627.0,154.7 626.9,154.9 626.6,155.2 626.4,155.5 626.1,155.7 625.9,155.9 625.6,156.2 625.1,156.4 624.9,156.5Z M632.9,219.8 632.6,219.7 632.6,219.2 632.8,218.9 633.1,218.9 633.2,219.2 633.1,219.4 632.9,219.8Z" fill="none" stroke="#0a0a0a" stroke-width="1.05"/>
<path d="M665.6,223.9 665.9,223.7 666.1,223.6 666.4,223.4 666.6,223.1 666.9,222.8 667.1,222.5 667.3,222.2 667.4,221.9 667.6,221.4 667.7,221.2 667.8,220.7 667.9,220.4 668.0,219.9 668.0,219.4 668.0,218.9 667.9,218.4 667.9,218.2 667.7,217.7 667.6,217.4 667.4,217.0 667.2,216.7 666.9,216.4 666.6,216.2 666.4,216.1 665.9,216.0 665.4,216.0 665.1,216.2 664.7,216.4 664.4,216.6 664.1,216.9 663.9,217.2 663.7,217.4 663.6,217.7 663.4,218.0 663.2,218.4 663.1,218.7 663.0,219.2 662.9,219.6 662.9,219.9 662.8,220.4 662.8,220.9 662.9,221.4 662.9,221.7 663.0,222.2 663.1,222.5 663.3,222.9 663.5,223.2 663.7,223.4 664.0,223.7 664.4,223.9 664.6,224.0 665.1,224.0 665.6,223.9Z" fill="none" stroke="#0a0a0a" stroke-width="1.15" stroke-dasharray="2.2 1.5"/>
<rect x="511.4" y="24.4" width="204.2" height="218.0" fill="none" stroke="#222" stroke-width="1"/>
<line x1="511.4" y1="36.4" x2="715.6" y2="36.4" stroke="#222" stroke-width="1"/>
<line x1="522.9" y1="24.4" x2="522.9" y2="30.4" stroke="#222" stroke-width="1"/>
<text x="520.4" y="22.1" text-anchor="middle">−50</text>
<line x1="585.4" y1="24.4" x2="585.4" y2="30.4" stroke="#222" stroke-width="1"/>
<text x="585.4" y="22.1" text-anchor="middle">0</text>
<line x1="647.9" y1="24.4" x2="647.9" y2="30.4" stroke="#222" stroke-width="1"/>
<text x="647.6" y="22.1" text-anchor="middle">50</text>
<line x1="710.3" y1="24.4" x2="710.3" y2="30.4" stroke="#222" stroke-width="1"/>
<text x="707.3" y="22.1" text-anchor="middle">100</text>
<line x1="699.6" y1="242.4" x2="699.6" y2="238.4" stroke="#222" stroke-width="1"/>
<line x1="511.4" y1="225.4" x2="515.4" y2="225.4" stroke="#222" stroke-width="1"/>
<text x="698.7" y="253.5" text-anchor="middle">−4</text>
<text x="507.9" y="228.8" text-anchor="end">−4</text>
<line x1="678.0" y1="242.4" x2="678.0" y2="238.4" stroke="#222" stroke-width="1"/>
<line x1="511.4" y1="203.9" x2="515.4" y2="203.9" stroke="#222" stroke-width="1"/>
<text x="677.1" y="253.5" text-anchor="middle">−3</text>
<text x="507.9" y="207.3" text-anchor="end">−3</text>
<line x1="656.5" y1="242.4" x2="656.5" y2="238.4" stroke="#222" stroke-width="1"/>
<line x1="511.4" y1="182.5" x2="515.4" y2="182.5" stroke="#222" stroke-width="1"/>
<text x="655.6" y="253.5" text-anchor="middle">−2</text>
<text x="507.9" y="185.9" text-anchor="end">−2</text>
<line x1="634.9" y1="242.4" x2="634.9" y2="238.4" stroke="#222" stroke-width="1"/>
<line x1="511.4" y1="161.0" x2="515.4" y2="161.0" stroke="#222" stroke-width="1"/>
<text x="634.0" y="253.5" text-anchor="middle">−1</text>
<text x="507.9" y="164.4" text-anchor="end">−1</text>
<line x1="613.4" y1="242.4" x2="613.4" y2="238.4" stroke="#222" stroke-width="1"/>
<line x1="511.4" y1="139.6" x2="515.4" y2="139.6" stroke="#222" stroke-width="1"/>
<text x="613.4" y="253.5" text-anchor="middle">0</text>
<text x="507.9" y="143.0" text-anchor="end">0</text>
<line x1="591.8" y1="242.4" x2="591.8" y2="238.4" stroke="#222" stroke-width="1"/>
<line x1="511.4" y1="118.1" x2="515.4" y2="118.1" stroke="#222" stroke-width="1"/>
<text x="591.8" y="253.5" text-anchor="middle">1</text>
<text x="507.9" y="121.5" text-anchor="end">1</text>
<line x1="570.2" y1="242.4" x2="570.2" y2="238.4" stroke="#222" stroke-width="1"/>
<line x1="511.4" y1="96.7" x2="515.4" y2="96.7" stroke="#222" stroke-width="1"/>
<text x="570.2" y="253.5" text-anchor="middle">2</text>
<text x="507.9" y="100.1" text-anchor="end">2</text>
<line x1="548.7" y1="242.4" x2="548.7" y2="238.4" stroke="#222" stroke-width="1"/>
<line x1="511.4" y1="75.2" x2="515.4" y2="75.2" stroke="#222" stroke-width="1"/>
<text x="548.7" y="253.5" text-anchor="middle">3</text>
<text x="507.9" y="78.7" text-anchor="end">3</text>
<line x1="527.1" y1="242.4" x2="527.1" y2="238.4" stroke="#222" stroke-width="1"/>
<line x1="511.4" y1="53.8" x2="515.4" y2="53.8" stroke="#222" stroke-width="1"/>
<text x="527.1" y="253.5" text-anchor="middle">4</text>
<text x="507.9" y="57.2" text-anchor="end">4</text>
<text x="-0.7" y="8.9" text-anchor="start" font-weight="bold" style="font-size:12.3px">a</text>
<text x="239.1" y="7.8" text-anchor="start" font-weight="bold" style="font-size:12.3px">b</text>
<text x="483.3" y="8.0" text-anchor="start" font-weight="bold" style="font-size:12.3px">c</text>
<text x="126.2" y="9.2" text-anchor="middle">μJy per beam</text>
<text x="130.3" y="266.2" text-anchor="middle">Milliarcseconds from 18 h 35 m 37.771445 s</text>
<text x="130.3" y="277.4" text-anchor="middle">Epoch 1: 15 June 2019</text>
<text x="371.75" y="266.2" text-anchor="middle">Milliarcseconds from 18 h 35 m 37.750365 s</text>
<text x="371.75" y="277.4" text-anchor="middle">Epoch 2: 20 August 2020</text>
<text x="615.6" y="266.2" text-anchor="middle">Milliarcseconds from 18 h 35 m 37.749112 s</text>
<text x="615.6" y="277.4" text-anchor="middle">Epoch 3: 28 August 2020</text>
<text x="0" y="0" text-anchor="middle" transform="translate(8.0,139.35) rotate(-90)">Milliarcseconds from 32 d 59 h 38.77191 s</text>
<text x="0" y="0" text-anchor="middle" transform="translate(248.4,138.4) rotate(-90)">Milliarcseconds from 32 d 59 h 37.82615 s</text>
<text x="0" y="0" text-anchor="middle" transform="translate(489.6,138.0) rotate(-90)">Milliarcseconds from 32 d 59 h 37.79315 s</text>
<text x="54.4" y="217.2" text-anchor="start">Synthesized beam</text>
<text x="54.4" y="228.5" text-anchor="start">(point source)</text>
<ellipse cx="46.95" cy="207.0" rx="4.1" ry="22.2" transform="rotate(21.5 46.95 207.0)" fill="none" stroke="#1a1a1a" stroke-width="1"/>
<text x="297.1" y="217.2" text-anchor="start">Synthesized beam</text>
<text x="297.1" y="228.5" text-anchor="start">(point source)</text>
<ellipse cx="285.2" cy="213.2" rx="6.4" ry="17.8" transform="rotate(16 285.2 213.2)" fill="none" stroke="#1a1a1a" stroke-width="1"/>
<text x="540.3" y="217.2" text-anchor="start">Synthesized beam</text>
<text x="540.3" y="228.5" text-anchor="start">(point source)</text>
<ellipse cx="528.85" cy="214.45" rx="6.3" ry="17.2" transform="rotate(14.7 528.85 214.45)" fill="none" stroke="#1a1a1a" stroke-width="1"/>
<line x1="413.1" y1="210" x2="457.5" y2="210" stroke="#1a1a1a" stroke-width="1.8"/>
<text x="432.7" y="221.5" text-anchor="middle">24 Jupiter radii</text>
<g stroke="#a41cae" stroke-width="1.4" fill="none"><path d="M137.6,142 L138.3,161.3 M135.2,151 L141,151"/><path d="M372.3,118 L372.5,152.9 M369,136 L376,136"/></g>
</svg>
</div>
<script>
(function(){
var D={"M": {"a": [[135.4, 128, 1.0, 27, 1.4, 12.5, 4]], "b": [[373, 112, 1.0, 30, 1.3, 0, 4]]}, "P": {"a": {"L": 26.5, "R": 230.6, "T": 35.4, "B": 242.4, "CT": 23.4, "x0": 128.3, "sx": 21.5, "y0": 139.6, "sy": 21.45, "cb0": 66.6, "cbs": 0.598, "cbt": [[0, "0", 0], [100, "100", 0], [200, "200", -0.2]]}, "b": {"L": 267.6, "R": 471.7, "T": 36.3, "B": 242.3, "CT": 24.3, "x0": 369.3, "sx": 21.6, "y0": 139.4, "sy": 21.4, "cb0": 333.5, "cbs": 1.088, "cbt": [[-50, "\u221250", -1.2], [0, "0", 0], [50, "50", 0.5], [100, "100", 1]]}, "c": {"L": 511.4, "R": 715.6, "T": 36.4, "B": 242.4, "CT": 24.4, "x0": 613.35, "sx": 21.56, "y0": 139.6, "sy": 21.45, "cb0": 585.4, "cbs": 1.249, "cbt": [[-50, "\u221250", -2.5], [0, "0", 0], [50, "50", -0.3], [100, "100", -3]]}}, "C": {"a": [[125.5, 128, 262, 20.4, 16.3, 5.8, 8, 22, 12.5, 9.0, 0.7, 1.8, 3], [142.2, 146, 188, 20, 14.8, 6, 4.8, 20, 0, 0, 0, 2, 2], [69.6, 57.6, -50, 13.3, 13.3, 2.6, 2.6, 20, 0, 0, 0, 2, 2], [122, 166, 75, 7, 7, 4.5, 4.5, 72, 0, 0, 0, 2, 2], [104, 128, -60, 16, 19, 3.6, 3.2, 14, 0, 0, 0, 2, 2], [99.8, 152, -55, 6, 5, 2.6, 2.6, 8, 0, 0, 0, 2, 2], [179.2, 47.25, 50, 8.3, 8.3, 2.5, 2.5, 25, 0, 0, 0, 2, 2]], "b": [[359.5, 125, 128, 5.5, 13.9, 7.0, 6.5, 12, 0, 11.6, 1.0, -1.2, 2], [391, 133, 52, 17, 17, 10, 12, 48, 0, 0, 0, 2, 2], [394, 148, 26, 8, 8, 7, 7, 0, 0, 0, 0, 2, 2], [376, 150, 46, 13, 12, 4, 5, 0, 0, 0, 0, 2, 2], [369, 163, 36, 15, 12, 4.5, 4.5, -15, 0, 0, 0, 2, 2], [415.9, 82.1, -50, 16.8, 16.8, 4.2, 4.2, 11.7, 0, 0, 0, 2, 2], [356.6, 190.4, -50, 5.6, 5.6, 2.8, 2.8, 8, 0, 0, 0, 2, 2], [340.5, 51, -50, 3.3, 3.3, 1.9, 1.9, 10, 0, 0, 0, 2, 2], [325.5, 92.3, 34, 1.9, 1.9, 1.7, 1.7, 0, 0, 0, 0, 2, 2]], "c": [[600.8, 122, 96, 19, 16.4, 8.6, 8.0, 19, 0, 0, 0, -3, 2], [591, 146, 20, 6, 6, 5, 5, 40, 0, 0, 0, 2, 2], [625.5, 151, 84, 14, 14, 7, 7, 12.5, 0, 0, 0, 2, 2], [610, 142, 34, 10, 10, 6, 6, -57, 0, 0, 0, 2, 2], [675.4, 81.7, 45, 13.2, 13.2, 3, 3, 24, 0, 0, 0, 2, 2], [632.9, 219.3, 85, 1.7, 1.7, 0.9, 0.9, 10, 0, 0, 0, 2, 2], [665.4, 220, -45, 4, 4, 2.5, 2.5, 10, 0, 0, 0, 2, 2]]}, "BG": {"a": 0, "b": 0, "c": 0}, "CM": [[0.0, 250], [0.2, 236], [0.36, 214], [0.5, 190], [0.66, 160], [0.8, 120], [0.9, 86], [0.96, 55], [1.0, 22]]};
var cv=document.getElementById('cv');var ctx=cv.getContext('2d');
var img=ctx.createImageData(716,280);var px=img.data;
for(var i=0;i<px.length;i+=4){px[i]=px[i+1]=px[i+2]=255;px[i+3]=255;}
function cmap(f){var C=D.CM;if(f<=C[0][0])return C[0][1];for(var i=1;i<C.length;i++){if(f<=C[i][0]){var t=(f-C[i-1][0])/(C[i][0]-C[i-1][0]);return C[i-1][1]+t*(C[i][1]-C[i-1][1]);}}return C[C.length-1][1];}
for(var n in D.P){var p=D.P[n];var comps=D.C[n];
 var vmin=(p.L-p.cb0)/p.cbs, vmax=(p.R-p.cb0)/p.cbs;
 var cs=comps.map(function(c){var t=c[7]*Math.PI/180,tc=c[8]*Math.PI/180;return [c[0],c[1],c[2],1/c[3],1/c[4],1/c[5],1/c[6],Math.sin(t),Math.cos(t),Math.cos(tc),Math.sin(tc),c[9],c[10],c[11],c[12]];});
 for(var y=Math.floor(p.CT);y<Math.ceil(p.B);y++){
  for(var x=Math.floor(p.L);x<Math.ceil(p.R);x++){
   var X=x+0.5,Y=y+0.5,g;
   if(Y<p.T){g=cmap((X-p.L)/(p.R-p.L));}
   else{var v=D.BG[n];
    for(var k=0;k<cs.length;k++){var c=cs[k];var dx=X-c[0],dy=Y-c[1];var u=dx*c[7]-dy*c[8],w=dx*c[8]+dy*c[7];var e;if(c[13]<0){var a1=u*(u<0?c[3]:c[4]),a2=w*(w<0?c[5]:c[6]);e=0.5*Math.pow(a1*a1+a2*a2,-c[13]/2);}else{e=0.5*(Math.pow(Math.abs(u)*(u<0?c[3]:c[4]),c[13])+Math.pow(Math.abs(w)*(w<0?c[5]:c[6]),c[14]));}if(e<30){var g=c[2]*Math.exp(-e);if(c[12]!=0){var d=dx*c[9]+dy*c[10];var z=(d-c[11])/c[12];if(z>50)z=50;if(z<-50)z=-50;g=g/(1+Math.exp(z));}v+=g;}}
    var ms=D.M[n]||[];for(var k=0;k<ms.length;k++){var q=ms[k];var tq=q[5]*Math.PI/180;var ddx=X-q[0],ddy=Y-q[1];var uu=ddx*Math.sin(tq)-ddy*Math.cos(tq),ww=ddx*Math.cos(tq)+ddy*Math.sin(tq);v*=1-q[2]*Math.exp(-0.5*(Math.pow(Math.abs(uu/q[3]),q[6])+ww*ww/(q[4]*q[4])));}
    g=cmap((v-vmin)/(vmax-vmin));}
   var o=(y*716+x)*4;px[o]=px[o+1]=px[o+2]=Math.round(g);
  }
 }
}
ctx.putImageData(img,0,0);
})();
</script>
</body></html>
